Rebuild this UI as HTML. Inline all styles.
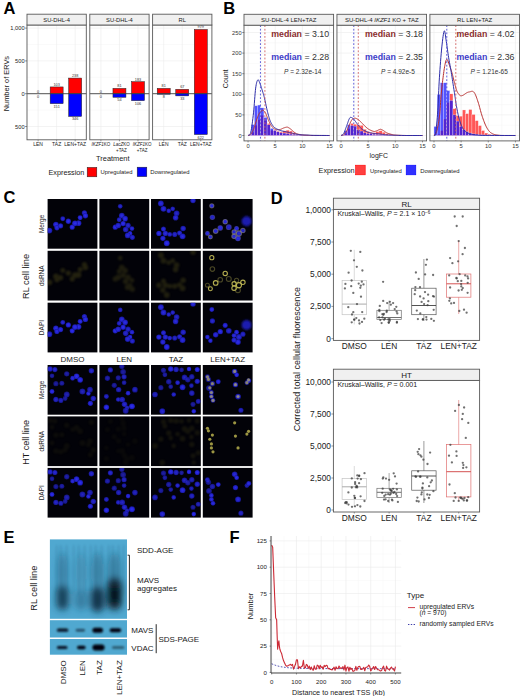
<!DOCTYPE html>
<html><head><meta charset="utf-8"><style>
html,body{margin:0;padding:0;background:#fff;}
svg{display:block;font-family:"Liberation Sans", sans-serif;}
</style></head><body>
<svg width="520" height="696" viewBox="0 0 520 696">
<text x="3.40" y="13.60" font-size="16.5" text-anchor="start" fill="#000" font-weight="bold">A</text>
<text x="9.00" y="83.60" font-size="7.4" text-anchor="middle" fill="#1a1a1a" transform="rotate(-90 9.0 83.6)">Number of ERVs</text>
<rect x="27.00" y="25.00" width="59.30" height="114.80" fill="#fff" stroke="none" stroke-width="0"/>
<line x1="27.00" y1="44.50" x2="86.30" y2="44.50" stroke="#f4f4f4" stroke-width="0.5"/>
<line x1="27.00" y1="77.30" x2="86.30" y2="77.30" stroke="#f4f4f4" stroke-width="0.5"/>
<line x1="27.00" y1="110.10" x2="86.30" y2="110.10" stroke="#f4f4f4" stroke-width="0.5"/>
<line x1="27.00" y1="28.10" x2="86.30" y2="28.10" stroke="#ebebeb" stroke-width="0.6"/>
<line x1="27.00" y1="60.90" x2="86.30" y2="60.90" stroke="#ebebeb" stroke-width="0.6"/>
<line x1="27.00" y1="93.70" x2="86.30" y2="93.70" stroke="#ebebeb" stroke-width="0.6"/>
<line x1="27.00" y1="126.50" x2="86.30" y2="126.50" stroke="#ebebeb" stroke-width="0.6"/>
<line x1="38.12" y1="25.00" x2="38.12" y2="139.80" stroke="#ebebeb" stroke-width="0.6"/>
<line x1="56.65" y1="25.00" x2="56.65" y2="139.80" stroke="#ebebeb" stroke-width="0.6"/>
<line x1="75.18" y1="25.00" x2="75.18" y2="139.80" stroke="#ebebeb" stroke-width="0.6"/>
<text x="38.12" y="92.50" font-size="3.8" text-anchor="middle" fill="#333">0</text>
<text x="38.12" y="97.70" font-size="3.8" text-anchor="middle" fill="#333">0</text>
<line x1="38.12" y1="139.80" x2="38.12" y2="141.30" stroke="#333333" stroke-width="0.5"/>
<rect x="50.16" y="86.94" width="12.97" height="6.76" fill="#ff0000" stroke="#222" stroke-width="0.5"/>
<rect x="50.16" y="93.70" width="12.97" height="9.91" fill="#0000ff" stroke="#222" stroke-width="0.5"/>
<text x="56.65" y="85.74" font-size="3.8" text-anchor="middle" fill="#333">103</text>
<text x="56.65" y="107.61" font-size="3.8" text-anchor="middle" fill="#333">151</text>
<line x1="56.65" y1="139.80" x2="56.65" y2="141.30" stroke="#333333" stroke-width="0.5"/>
<rect x="68.70" y="78.09" width="12.97" height="15.61" fill="#ff0000" stroke="#222" stroke-width="0.5"/>
<rect x="68.70" y="93.70" width="12.97" height="22.70" fill="#0000ff" stroke="#222" stroke-width="0.5"/>
<text x="75.18" y="76.89" font-size="3.8" text-anchor="middle" fill="#333">238</text>
<text x="75.18" y="120.40" font-size="3.8" text-anchor="middle" fill="#333">346</text>
<line x1="75.18" y1="139.80" x2="75.18" y2="141.30" stroke="#333333" stroke-width="0.5"/>
<line x1="27.00" y1="93.70" x2="86.30" y2="93.70" stroke="#444" stroke-width="0.9"/>
<rect x="27.00" y="25.00" width="59.30" height="114.80" fill="none" stroke="#595959" stroke-width="0.9"/>
<rect x="27.00" y="14.20" width="59.30" height="10.80" fill="#f0f0f0" stroke="#595959" stroke-width="0.9"/>
<text x="56.65" y="21.80" font-size="5.8" text-anchor="middle" fill="#1a1a1a">SU-DHL-4</text>
<rect x="89.80" y="25.00" width="59.30" height="114.80" fill="#fff" stroke="none" stroke-width="0"/>
<line x1="89.80" y1="44.50" x2="149.10" y2="44.50" stroke="#f4f4f4" stroke-width="0.5"/>
<line x1="89.80" y1="77.30" x2="149.10" y2="77.30" stroke="#f4f4f4" stroke-width="0.5"/>
<line x1="89.80" y1="110.10" x2="149.10" y2="110.10" stroke="#f4f4f4" stroke-width="0.5"/>
<line x1="89.80" y1="28.10" x2="149.10" y2="28.10" stroke="#ebebeb" stroke-width="0.6"/>
<line x1="89.80" y1="60.90" x2="149.10" y2="60.90" stroke="#ebebeb" stroke-width="0.6"/>
<line x1="89.80" y1="93.70" x2="149.10" y2="93.70" stroke="#ebebeb" stroke-width="0.6"/>
<line x1="89.80" y1="126.50" x2="149.10" y2="126.50" stroke="#ebebeb" stroke-width="0.6"/>
<line x1="100.92" y1="25.00" x2="100.92" y2="139.80" stroke="#ebebeb" stroke-width="0.6"/>
<line x1="119.45" y1="25.00" x2="119.45" y2="139.80" stroke="#ebebeb" stroke-width="0.6"/>
<line x1="137.98" y1="25.00" x2="137.98" y2="139.80" stroke="#ebebeb" stroke-width="0.6"/>
<text x="100.92" y="92.50" font-size="3.8" text-anchor="middle" fill="#333">0</text>
<text x="100.92" y="97.70" font-size="3.8" text-anchor="middle" fill="#333">0</text>
<line x1="100.92" y1="139.80" x2="100.92" y2="141.30" stroke="#333333" stroke-width="0.5"/>
<rect x="112.96" y="88.39" width="12.97" height="5.31" fill="#ff0000" stroke="#222" stroke-width="0.5"/>
<rect x="112.96" y="93.70" width="12.97" height="3.54" fill="#0000ff" stroke="#222" stroke-width="0.5"/>
<text x="119.45" y="87.19" font-size="3.8" text-anchor="middle" fill="#333">81</text>
<text x="119.45" y="101.24" font-size="3.8" text-anchor="middle" fill="#333">54</text>
<line x1="119.45" y1="139.80" x2="119.45" y2="141.30" stroke="#333333" stroke-width="0.5"/>
<rect x="131.50" y="81.70" width="12.97" height="12.00" fill="#ff0000" stroke="#222" stroke-width="0.5"/>
<rect x="131.50" y="93.70" width="12.97" height="6.95" fill="#0000ff" stroke="#222" stroke-width="0.5"/>
<text x="137.98" y="80.50" font-size="3.8" text-anchor="middle" fill="#333">183</text>
<text x="137.98" y="104.65" font-size="3.8" text-anchor="middle" fill="#333">106</text>
<line x1="137.98" y1="139.80" x2="137.98" y2="141.30" stroke="#333333" stroke-width="0.5"/>
<line x1="89.80" y1="93.70" x2="149.10" y2="93.70" stroke="#444" stroke-width="0.9"/>
<rect x="89.80" y="25.00" width="59.30" height="114.80" fill="none" stroke="#595959" stroke-width="0.9"/>
<rect x="89.80" y="14.20" width="59.30" height="10.80" fill="#f0f0f0" stroke="#595959" stroke-width="0.9"/>
<text x="119.45" y="21.80" font-size="5.8" text-anchor="middle" fill="#1a1a1a">SU-DHL-4</text>
<rect x="152.60" y="25.00" width="59.30" height="114.80" fill="#fff" stroke="none" stroke-width="0"/>
<line x1="152.60" y1="44.50" x2="211.90" y2="44.50" stroke="#f4f4f4" stroke-width="0.5"/>
<line x1="152.60" y1="77.30" x2="211.90" y2="77.30" stroke="#f4f4f4" stroke-width="0.5"/>
<line x1="152.60" y1="110.10" x2="211.90" y2="110.10" stroke="#f4f4f4" stroke-width="0.5"/>
<line x1="152.60" y1="28.10" x2="211.90" y2="28.10" stroke="#ebebeb" stroke-width="0.6"/>
<line x1="152.60" y1="60.90" x2="211.90" y2="60.90" stroke="#ebebeb" stroke-width="0.6"/>
<line x1="152.60" y1="93.70" x2="211.90" y2="93.70" stroke="#ebebeb" stroke-width="0.6"/>
<line x1="152.60" y1="126.50" x2="211.90" y2="126.50" stroke="#ebebeb" stroke-width="0.6"/>
<line x1="163.72" y1="25.00" x2="163.72" y2="139.80" stroke="#ebebeb" stroke-width="0.6"/>
<line x1="182.25" y1="25.00" x2="182.25" y2="139.80" stroke="#ebebeb" stroke-width="0.6"/>
<line x1="200.78" y1="25.00" x2="200.78" y2="139.80" stroke="#ebebeb" stroke-width="0.6"/>
<rect x="157.23" y="88.39" width="12.97" height="5.31" fill="#ff0000" stroke="#222" stroke-width="0.5"/>
<rect x="157.23" y="93.70" width="12.97" height="0.52" fill="#0000ff" stroke="#222" stroke-width="0.5"/>
<text x="163.72" y="87.19" font-size="3.8" text-anchor="middle" fill="#333">81</text>
<text x="163.72" y="98.22" font-size="3.8" text-anchor="middle" fill="#333">8</text>
<line x1="163.72" y1="139.80" x2="163.72" y2="141.30" stroke="#333333" stroke-width="0.5"/>
<rect x="175.76" y="89.30" width="12.97" height="4.40" fill="#ff0000" stroke="#222" stroke-width="0.5"/>
<rect x="175.76" y="93.70" width="12.97" height="2.16" fill="#0000ff" stroke="#222" stroke-width="0.5"/>
<text x="182.25" y="88.10" font-size="3.8" text-anchor="middle" fill="#333">67</text>
<text x="182.25" y="99.86" font-size="3.8" text-anchor="middle" fill="#333">33</text>
<line x1="182.25" y1="139.80" x2="182.25" y2="141.30" stroke="#333333" stroke-width="0.5"/>
<rect x="194.30" y="29.48" width="12.97" height="64.22" fill="#ff0000" stroke="#222" stroke-width="0.5"/>
<rect x="194.30" y="93.70" width="12.97" height="40.80" fill="#0000ff" stroke="#222" stroke-width="0.5"/>
<text x="200.78" y="28.28" font-size="3.8" text-anchor="middle" fill="#333">979</text>
<text x="200.78" y="138.50" font-size="3.8" text-anchor="middle" fill="#333">622</text>
<line x1="200.78" y1="139.80" x2="200.78" y2="141.30" stroke="#333333" stroke-width="0.5"/>
<line x1="152.60" y1="93.70" x2="211.90" y2="93.70" stroke="#444" stroke-width="0.9"/>
<rect x="152.60" y="25.00" width="59.30" height="114.80" fill="none" stroke="#595959" stroke-width="0.9"/>
<rect x="152.60" y="14.20" width="59.30" height="10.80" fill="#f0f0f0" stroke="#595959" stroke-width="0.9"/>
<text x="182.25" y="21.80" font-size="5.8" text-anchor="middle" fill="#1a1a1a">RL</text>
<line x1="25.00" y1="28.10" x2="27.00" y2="28.10" stroke="#333333" stroke-width="0.5"/>
<text x="24.60" y="30.10" font-size="5.7" text-anchor="end" fill="#222">1,000</text>
<line x1="25.00" y1="60.90" x2="27.00" y2="60.90" stroke="#333333" stroke-width="0.5"/>
<text x="24.60" y="62.90" font-size="5.7" text-anchor="end" fill="#222">500</text>
<line x1="25.00" y1="93.70" x2="27.00" y2="93.70" stroke="#333333" stroke-width="0.5"/>
<text x="24.60" y="95.70" font-size="5.7" text-anchor="end" fill="#222">0</text>
<line x1="25.00" y1="126.50" x2="27.00" y2="126.50" stroke="#333333" stroke-width="0.5"/>
<text x="24.60" y="128.50" font-size="5.7" text-anchor="end" fill="#222">500</text>
<text x="38.12" y="145.90" font-size="5.0" text-anchor="middle" fill="#222">LEN</text>
<text x="56.65" y="145.90" font-size="5.0" text-anchor="middle" fill="#222">TAZ</text>
<text x="75.18" y="145.90" font-size="5.0" text-anchor="middle" fill="#222">LEN+TAZ</text>
<text x="100.80" y="145.90" font-size="4.5" text-anchor="middle" fill="#222"><tspan font-style="italic">IKZF1</tspan>KO</text>
<text x="121.40" y="145.90" font-size="4.5" text-anchor="middle" fill="#222"><tspan font-style="italic">LacZ</tspan>KO</text>
<text x="121.40" y="151.50" font-size="4.5" text-anchor="middle" fill="#222">+TAZ</text>
<text x="142.10" y="145.90" font-size="4.5" text-anchor="middle" fill="#222"><tspan font-style="italic">IKZF1</tspan>KO</text>
<text x="142.10" y="151.50" font-size="4.5" text-anchor="middle" fill="#222">+TAZ</text>
<text x="163.72" y="145.90" font-size="5.0" text-anchor="middle" fill="#222">LEN</text>
<text x="182.25" y="145.90" font-size="5.0" text-anchor="middle" fill="#222">TAZ</text>
<text x="200.78" y="145.90" font-size="5.0" text-anchor="middle" fill="#222">LEN+TAZ</text>
<text x="112.80" y="160.60" font-size="7.4" text-anchor="middle" fill="#1a1a1a">Treatment</text>
<text x="48.50" y="174.70" font-size="7.25" text-anchor="start" fill="#1a1a1a">Expression</text>
<rect x="87.20" y="167.40" width="9.60" height="9.40" fill="#ff0000" stroke="#222" stroke-width="0.5"/>
<text x="100.60" y="174.20" font-size="5.85" text-anchor="start" fill="#1a1a1a">Upregulated</text>
<rect x="137.20" y="167.20" width="9.60" height="9.40" fill="#0000ff" stroke="#222" stroke-width="0.5"/>
<text x="150.20" y="174.20" font-size="5.85" text-anchor="start" fill="#1a1a1a">Downregulated</text>
<text x="223.20" y="13.60" font-size="16.5" text-anchor="start" fill="#000" font-weight="bold">B</text>
<text x="228.00" y="78.80" font-size="7.0" text-anchor="middle" fill="#1a1a1a" transform="rotate(-90 228.0 78.8)">Count</text>
<rect x="244.00" y="25.20" width="89.60" height="115.70" fill="#fff" stroke="none" stroke-width="0"/>
<line x1="261.64" y1="25.20" x2="261.64" y2="140.90" stroke="#f4f4f4" stroke-width="0.5"/>
<line x1="288.79" y1="25.20" x2="288.79" y2="140.90" stroke="#f4f4f4" stroke-width="0.5"/>
<line x1="315.94" y1="25.20" x2="315.94" y2="140.90" stroke="#f4f4f4" stroke-width="0.5"/>
<line x1="244.00" y1="125.20" x2="333.60" y2="125.20" stroke="#f4f4f4" stroke-width="0.5"/>
<line x1="244.00" y1="104.60" x2="333.60" y2="104.60" stroke="#f4f4f4" stroke-width="0.5"/>
<line x1="244.00" y1="84.00" x2="333.60" y2="84.00" stroke="#f4f4f4" stroke-width="0.5"/>
<line x1="244.00" y1="63.40" x2="333.60" y2="63.40" stroke="#f4f4f4" stroke-width="0.5"/>
<line x1="244.00" y1="42.80" x2="333.60" y2="42.80" stroke="#f4f4f4" stroke-width="0.5"/>
<line x1="248.07" y1="25.20" x2="248.07" y2="140.90" stroke="#ebebeb" stroke-width="0.6"/>
<line x1="275.22" y1="25.20" x2="275.22" y2="140.90" stroke="#ebebeb" stroke-width="0.6"/>
<line x1="302.37" y1="25.20" x2="302.37" y2="140.90" stroke="#ebebeb" stroke-width="0.6"/>
<line x1="329.52" y1="25.20" x2="329.52" y2="140.90" stroke="#ebebeb" stroke-width="0.6"/>
<line x1="244.00" y1="135.50" x2="333.60" y2="135.50" stroke="#ebebeb" stroke-width="0.6"/>
<line x1="244.00" y1="114.90" x2="333.60" y2="114.90" stroke="#ebebeb" stroke-width="0.6"/>
<line x1="244.00" y1="94.30" x2="333.60" y2="94.30" stroke="#ebebeb" stroke-width="0.6"/>
<line x1="244.00" y1="73.70" x2="333.60" y2="73.70" stroke="#ebebeb" stroke-width="0.6"/>
<line x1="244.00" y1="53.10" x2="333.60" y2="53.10" stroke="#ebebeb" stroke-width="0.6"/>
<line x1="244.00" y1="32.50" x2="333.60" y2="32.50" stroke="#ebebeb" stroke-width="0.6"/>
<rect x="248.07" y="135.17" width="3.17" height="0.33" fill="#ff2020" stroke="#ffffff" stroke-width="0.25" fill-opacity="0.75"/>
<rect x="248.07" y="135.06" width="3.17" height="0.44" fill="#1010ff" stroke="#ffffff" stroke-width="0.25" fill-opacity="0.72"/>
<rect x="251.24" y="132.22" width="3.17" height="3.28" fill="#ff2020" stroke="#ffffff" stroke-width="0.25" fill-opacity="0.75"/>
<rect x="251.24" y="124.61" width="3.17" height="10.89" fill="#1010ff" stroke="#ffffff" stroke-width="0.25" fill-opacity="0.72"/>
<rect x="254.40" y="125.26" width="3.17" height="10.24" fill="#ff2020" stroke="#ffffff" stroke-width="0.25" fill-opacity="0.75"/>
<rect x="254.40" y="105.74" width="3.17" height="29.76" fill="#1010ff" stroke="#ffffff" stroke-width="0.25" fill-opacity="0.72"/>
<rect x="257.57" y="119.72" width="3.17" height="15.78" fill="#ff2020" stroke="#ffffff" stroke-width="0.25" fill-opacity="0.75"/>
<rect x="257.57" y="105.05" width="3.17" height="30.45" fill="#1010ff" stroke="#ffffff" stroke-width="0.25" fill-opacity="0.72"/>
<rect x="260.73" y="115.22" width="3.17" height="20.28" fill="#ff2020" stroke="#ffffff" stroke-width="0.25" fill-opacity="0.75"/>
<rect x="260.73" y="107.85" width="3.17" height="27.65" fill="#1010ff" stroke="#ffffff" stroke-width="0.25" fill-opacity="0.72"/>
<rect x="263.90" y="120.51" width="3.17" height="14.99" fill="#ff2020" stroke="#ffffff" stroke-width="0.25" fill-opacity="0.75"/>
<rect x="263.90" y="117.39" width="3.17" height="18.11" fill="#1010ff" stroke="#ffffff" stroke-width="0.25" fill-opacity="0.72"/>
<rect x="267.06" y="123.52" width="3.17" height="11.98" fill="#ff2020" stroke="#ffffff" stroke-width="0.25" fill-opacity="0.75"/>
<rect x="267.06" y="124.82" width="3.17" height="10.68" fill="#1010ff" stroke="#ffffff" stroke-width="0.25" fill-opacity="0.72"/>
<rect x="270.23" y="130.14" width="3.17" height="5.36" fill="#ff2020" stroke="#ffffff" stroke-width="0.25" fill-opacity="0.75"/>
<rect x="270.23" y="128.41" width="3.17" height="7.09" fill="#1010ff" stroke="#ffffff" stroke-width="0.25" fill-opacity="0.72"/>
<rect x="273.40" y="130.12" width="3.17" height="5.38" fill="#ff2020" stroke="#ffffff" stroke-width="0.25" fill-opacity="0.75"/>
<rect x="273.40" y="130.51" width="3.17" height="4.99" fill="#1010ff" stroke="#ffffff" stroke-width="0.25" fill-opacity="0.72"/>
<rect x="276.56" y="131.15" width="3.17" height="4.35" fill="#ff2020" stroke="#ffffff" stroke-width="0.25" fill-opacity="0.75"/>
<rect x="276.56" y="131.84" width="3.17" height="3.66" fill="#1010ff" stroke="#ffffff" stroke-width="0.25" fill-opacity="0.72"/>
<rect x="279.73" y="131.77" width="3.17" height="3.73" fill="#ff2020" stroke="#ffffff" stroke-width="0.25" fill-opacity="0.75"/>
<rect x="279.73" y="132.85" width="3.17" height="2.65" fill="#1010ff" stroke="#ffffff" stroke-width="0.25" fill-opacity="0.72"/>
<rect x="282.89" y="130.87" width="3.17" height="4.63" fill="#ff2020" stroke="#ffffff" stroke-width="0.25" fill-opacity="0.75"/>
<rect x="282.89" y="133.07" width="3.17" height="2.43" fill="#1010ff" stroke="#ffffff" stroke-width="0.25" fill-opacity="0.72"/>
<rect x="286.06" y="130.16" width="3.17" height="5.34" fill="#ff2020" stroke="#ffffff" stroke-width="0.25" fill-opacity="0.75"/>
<rect x="286.06" y="133.61" width="3.17" height="1.89" fill="#1010ff" stroke="#ffffff" stroke-width="0.25" fill-opacity="0.72"/>
<rect x="289.22" y="131.04" width="3.17" height="4.46" fill="#ff2020" stroke="#ffffff" stroke-width="0.25" fill-opacity="0.75"/>
<rect x="289.22" y="134.07" width="3.17" height="1.43" fill="#1010ff" stroke="#ffffff" stroke-width="0.25" fill-opacity="0.72"/>
<rect x="292.39" y="132.64" width="3.17" height="2.86" fill="#ff2020" stroke="#ffffff" stroke-width="0.25" fill-opacity="0.75"/>
<rect x="292.39" y="134.39" width="3.17" height="1.11" fill="#1010ff" stroke="#ffffff" stroke-width="0.25" fill-opacity="0.72"/>
<rect x="295.56" y="134.29" width="3.17" height="1.21" fill="#ff2020" stroke="#ffffff" stroke-width="0.25" fill-opacity="0.75"/>
<rect x="295.56" y="134.77" width="3.17" height="0.73" fill="#1010ff" stroke="#ffffff" stroke-width="0.25" fill-opacity="0.72"/>
<rect x="298.72" y="134.80" width="3.17" height="0.70" fill="#ff2020" stroke="#ffffff" stroke-width="0.25" fill-opacity="0.75"/>
<rect x="298.72" y="135.02" width="3.17" height="0.48" fill="#1010ff" stroke="#ffffff" stroke-width="0.25" fill-opacity="0.72"/>
<rect x="301.89" y="135.18" width="3.17" height="0.32" fill="#ff2020" stroke="#ffffff" stroke-width="0.25" fill-opacity="0.75"/>
<rect x="301.89" y="135.17" width="3.17" height="0.33" fill="#1010ff" stroke="#ffffff" stroke-width="0.25" fill-opacity="0.72"/>
<rect x="305.05" y="135.27" width="3.17" height="0.23" fill="#ff2020" stroke="#ffffff" stroke-width="0.25" fill-opacity="0.75"/>
<rect x="305.05" y="135.20" width="3.17" height="0.30" fill="#1010ff" stroke="#ffffff" stroke-width="0.25" fill-opacity="0.72"/>
<path d="M248.07,135.50 L248.28,135.43 L248.56,135.36 L248.89,135.29 L249.26,135.19 L249.65,135.05 L250.04,134.86 L250.43,134.60 L250.78,134.26 L251.12,133.85 L251.46,133.37 L251.80,132.83 L252.14,132.23 L252.48,131.58 L252.82,130.87 L253.16,130.12 L253.50,129.32 L253.84,128.44 L254.18,127.46 L254.52,126.42 L254.86,125.33 L255.20,124.22 L255.54,123.13 L255.88,122.07 L256.21,121.08 L256.55,120.12 L256.89,119.16 L257.23,118.20 L257.57,117.27 L257.91,116.38 L258.25,115.54 L258.59,114.77 L258.93,114.08 L259.28,113.47 L259.63,112.92 L260.00,112.44 L260.36,112.02 L260.71,111.64 L261.04,111.31 L261.36,111.03 L261.64,110.78 L261.90,110.57 L262.12,110.41 L262.31,110.29 L262.49,110.21 L262.67,110.18 L262.85,110.20 L263.05,110.26 L263.27,110.37 L263.52,110.52 L263.78,110.72 L264.05,110.96 L264.33,111.24 L264.61,111.58 L264.89,111.95 L265.17,112.37 L265.45,112.84 L265.72,113.37 L265.99,113.99 L266.26,114.66 L266.53,115.36 L266.80,116.09 L267.07,116.82 L267.35,117.53 L267.62,118.20 L267.89,118.84 L268.15,119.48 L268.41,120.12 L268.67,120.75 L268.94,121.36 L269.21,121.97 L269.49,122.56 L269.79,123.14 L270.10,123.71 L270.43,124.28 L270.77,124.84 L271.11,125.38 L271.46,125.90 L271.81,126.39 L272.16,126.85 L272.50,127.26 L272.84,127.63 L273.18,127.96 L273.52,128.26 L273.86,128.52 L274.20,128.76 L274.54,128.97 L274.88,129.16 L275.22,129.32 L275.56,129.46 L275.90,129.56 L276.24,129.63 L276.58,129.68 L276.92,129.71 L277.26,129.73 L277.60,129.73 L277.94,129.73 L278.27,129.73 L278.61,129.71 L278.95,129.67 L279.29,129.63 L279.63,129.57 L279.97,129.50 L280.31,129.42 L280.65,129.32 L280.99,129.20 L281.33,129.06 L281.67,128.90 L282.01,128.73 L282.35,128.55 L282.69,128.38 L283.03,128.22 L283.37,128.08 L283.71,127.96 L284.07,127.83 L284.43,127.71 L284.79,127.59 L285.14,127.49 L285.48,127.40 L285.79,127.32 L286.08,127.26 L286.33,127.21 L286.54,127.16 L286.72,127.13 L286.89,127.11 L287.07,127.10 L287.25,127.12 L287.46,127.18 L287.71,127.26 L287.99,127.38 L288.29,127.52 L288.60,127.68 L288.93,127.88 L289.28,128.10 L289.64,128.34 L290.03,128.61 L290.42,128.91 L290.85,129.25 L291.32,129.65 L291.82,130.10 L292.32,130.56 L292.83,131.02 L293.33,131.46 L293.79,131.86 L294.23,132.20 L294.60,132.49 L294.92,132.75 L295.20,132.97 L295.48,133.17 L295.77,133.35 L296.10,133.52 L296.48,133.69 L296.94,133.85 L297.49,134.01 L298.11,134.17 L298.78,134.31 L299.49,134.44 L300.21,134.57 L300.95,134.68 L301.67,134.79 L302.37,134.88 L303.05,134.96 L303.73,135.03 L304.41,135.09 L305.08,135.14 L305.76,135.18 L306.44,135.22 L307.12,135.26 L307.80,135.29 L308.40,135.33 L308.90,135.36 L309.36,135.40 L309.84,135.42 L310.40,135.45 L311.11,135.47 L312.03,135.49 L313.23,135.50 L314.86,135.50 L316.92,135.50 L319.26,135.50 L321.71,135.50 L324.13,135.50 L326.34,135.50 L328.19,135.50 L329.52,135.50" fill="none" stroke="#b83030" stroke-width="1.0" stroke-linejoin="round"/>
<path d="M248.07,135.50 L248.28,135.36 L248.56,135.28 L248.89,135.21 L249.26,135.06 L249.65,134.76 L250.04,134.24 L250.43,133.41 L250.78,132.20 L251.13,130.59 L251.48,128.62 L251.83,126.35 L252.18,123.86 L252.52,121.20 L252.86,118.43 L253.19,115.63 L253.50,112.84 L253.80,109.89 L254.08,106.65 L254.35,103.24 L254.62,99.78 L254.88,96.42 L255.14,93.27 L255.40,90.46 L255.67,88.12 L255.94,86.22 L256.21,84.62 L256.49,83.30 L256.76,82.22 L257.03,81.37 L257.30,80.71 L257.57,80.23 L257.84,79.88 L258.12,79.75 L258.39,79.90 L258.66,80.27 L258.93,80.81 L259.20,81.46 L259.47,82.18 L259.74,82.90 L260.02,83.59 L260.29,84.27 L260.56,85.01 L260.83,85.81 L261.10,86.65 L261.37,87.52 L261.64,88.41 L261.92,89.30 L262.19,90.18 L262.46,91.03 L262.72,91.86 L262.98,92.68 L263.24,93.53 L263.51,94.42 L263.78,95.38 L264.06,96.43 L264.36,97.60 L264.67,98.92 L265.00,100.40 L265.34,101.98 L265.68,103.62 L266.03,105.28 L266.38,106.92 L266.73,108.50 L267.07,109.96 L267.41,111.34 L267.75,112.71 L268.09,114.04 L268.43,115.34 L268.77,116.58 L269.11,117.75 L269.45,118.84 L269.79,119.84 L270.13,120.75 L270.47,121.56 L270.81,122.29 L271.15,122.96 L271.49,123.57 L271.83,124.14 L272.17,124.68 L272.50,125.20 L272.83,125.68 L273.12,126.10 L273.40,126.48 L273.69,126.82 L274.00,127.14 L274.35,127.45 L274.75,127.76 L275.22,128.08 L275.77,128.42 L276.39,128.76 L277.06,129.10 L277.77,129.42 L278.49,129.74 L279.23,130.03 L279.95,130.31 L280.65,130.56 L281.33,130.77 L282.01,130.95 L282.69,131.11 L283.37,131.25 L284.04,131.38 L284.72,131.51 L285.40,131.65 L286.08,131.79 L286.76,131.95 L287.44,132.10 L288.12,132.26 L288.79,132.41 L289.47,132.56 L290.15,132.72 L290.83,132.87 L291.51,133.03 L292.19,133.19 L292.87,133.35 L293.55,133.52 L294.23,133.68 L294.90,133.85 L295.58,134.00 L296.26,134.14 L296.94,134.26 L297.62,134.37 L298.30,134.47 L298.98,134.56 L299.65,134.64 L300.33,134.71 L301.01,134.77 L301.69,134.83 L302.37,134.88 L303.05,134.93 L303.73,134.96 L304.41,134.99 L305.08,135.01 L305.76,135.03 L306.44,135.04 L307.12,135.06 L307.80,135.09 L308.40,135.12 L308.90,135.15 L309.36,135.18 L309.84,135.21 L310.40,135.25 L311.11,135.28 L312.03,135.31 L313.23,135.34 L314.86,135.36 L316.92,135.39 L319.26,135.41 L321.71,135.43 L324.13,135.45 L326.34,135.47 L328.19,135.49 L329.52,135.50" fill="none" stroke="#2c2ca8" stroke-width="1.0" stroke-linejoin="round"/>
<line x1="260.45" y1="25.20" x2="260.45" y2="140.90" stroke="#5050d8" stroke-width="0.9" stroke-dasharray="1.8,1.8"/>
<line x1="264.90" y1="25.20" x2="264.90" y2="140.90" stroke="#d06060" stroke-width="0.9" stroke-dasharray="1.8,1.8"/>
<text x="271.2" y="36.8" font-size="8.8" fill="#333"><tspan fill="#8b2e2e" font-weight="bold">median</tspan> = 3.10</text>
<text x="271.2" y="59.6" font-size="8.8" fill="#333"><tspan fill="#3c3cc8" font-weight="bold">median</tspan> = 2.28</text>
<text x="284.0" y="74.1" font-size="6.5" fill="#333"><tspan font-style="italic">P</tspan> = 2.32e-14</text>
<rect x="244.00" y="25.20" width="89.60" height="115.70" fill="none" stroke="#595959" stroke-width="0.9"/>
<rect x="244.00" y="14.30" width="89.60" height="10.90" fill="#f0f0f0" stroke="#595959" stroke-width="0.9"/>
<text x="288.80" y="22.10" font-size="6.0" text-anchor="middle" fill="#1a1a1a">SU-DHL-4 LEN+TAZ</text>
<line x1="248.07" y1="140.90" x2="248.07" y2="142.40" stroke="#333333" stroke-width="0.5"/>
<text x="248.07" y="148.20" font-size="5.8" text-anchor="middle" fill="#333">0</text>
<line x1="275.22" y1="140.90" x2="275.22" y2="142.40" stroke="#333333" stroke-width="0.5"/>
<text x="275.22" y="148.20" font-size="5.8" text-anchor="middle" fill="#333">5</text>
<line x1="302.37" y1="140.90" x2="302.37" y2="142.40" stroke="#333333" stroke-width="0.5"/>
<text x="302.37" y="148.20" font-size="5.8" text-anchor="middle" fill="#333">10</text>
<line x1="329.52" y1="140.90" x2="329.52" y2="142.40" stroke="#333333" stroke-width="0.5"/>
<text x="329.52" y="148.20" font-size="5.8" text-anchor="middle" fill="#333">15</text>
<rect x="336.95" y="25.20" width="89.60" height="115.70" fill="#fff" stroke="none" stroke-width="0"/>
<line x1="354.59" y1="25.20" x2="354.59" y2="140.90" stroke="#f4f4f4" stroke-width="0.5"/>
<line x1="381.75" y1="25.20" x2="381.75" y2="140.90" stroke="#f4f4f4" stroke-width="0.5"/>
<line x1="408.89" y1="25.20" x2="408.89" y2="140.90" stroke="#f4f4f4" stroke-width="0.5"/>
<line x1="336.95" y1="125.20" x2="426.55" y2="125.20" stroke="#f4f4f4" stroke-width="0.5"/>
<line x1="336.95" y1="104.60" x2="426.55" y2="104.60" stroke="#f4f4f4" stroke-width="0.5"/>
<line x1="336.95" y1="84.00" x2="426.55" y2="84.00" stroke="#f4f4f4" stroke-width="0.5"/>
<line x1="336.95" y1="63.40" x2="426.55" y2="63.40" stroke="#f4f4f4" stroke-width="0.5"/>
<line x1="336.95" y1="42.80" x2="426.55" y2="42.80" stroke="#f4f4f4" stroke-width="0.5"/>
<line x1="341.02" y1="25.20" x2="341.02" y2="140.90" stroke="#ebebeb" stroke-width="0.6"/>
<line x1="368.17" y1="25.20" x2="368.17" y2="140.90" stroke="#ebebeb" stroke-width="0.6"/>
<line x1="395.32" y1="25.20" x2="395.32" y2="140.90" stroke="#ebebeb" stroke-width="0.6"/>
<line x1="422.47" y1="25.20" x2="422.47" y2="140.90" stroke="#ebebeb" stroke-width="0.6"/>
<line x1="336.95" y1="135.50" x2="426.55" y2="135.50" stroke="#ebebeb" stroke-width="0.6"/>
<line x1="336.95" y1="114.90" x2="426.55" y2="114.90" stroke="#ebebeb" stroke-width="0.6"/>
<line x1="336.95" y1="94.30" x2="426.55" y2="94.30" stroke="#ebebeb" stroke-width="0.6"/>
<line x1="336.95" y1="73.70" x2="426.55" y2="73.70" stroke="#ebebeb" stroke-width="0.6"/>
<line x1="336.95" y1="53.10" x2="426.55" y2="53.10" stroke="#ebebeb" stroke-width="0.6"/>
<line x1="336.95" y1="32.50" x2="426.55" y2="32.50" stroke="#ebebeb" stroke-width="0.6"/>
<rect x="341.02" y="135.03" width="3.17" height="0.47" fill="#1010ff" stroke="#ffffff" stroke-width="0.25" fill-opacity="0.72"/>
<rect x="344.19" y="133.34" width="3.17" height="2.16" fill="#ff2020" stroke="#ffffff" stroke-width="0.25" fill-opacity="0.75"/>
<rect x="344.19" y="130.70" width="3.17" height="4.80" fill="#1010ff" stroke="#ffffff" stroke-width="0.25" fill-opacity="0.72"/>
<rect x="347.35" y="128.74" width="3.17" height="6.76" fill="#ff2020" stroke="#ffffff" stroke-width="0.25" fill-opacity="0.75"/>
<rect x="347.35" y="124.66" width="3.17" height="10.84" fill="#1010ff" stroke="#ffffff" stroke-width="0.25" fill-opacity="0.72"/>
<rect x="350.52" y="123.45" width="3.17" height="12.05" fill="#ff2020" stroke="#ffffff" stroke-width="0.25" fill-opacity="0.75"/>
<rect x="350.52" y="125.49" width="3.17" height="10.01" fill="#1010ff" stroke="#ffffff" stroke-width="0.25" fill-opacity="0.72"/>
<rect x="353.68" y="124.19" width="3.17" height="11.31" fill="#ff2020" stroke="#ffffff" stroke-width="0.25" fill-opacity="0.75"/>
<rect x="353.68" y="126.14" width="3.17" height="9.36" fill="#1010ff" stroke="#ffffff" stroke-width="0.25" fill-opacity="0.72"/>
<rect x="356.85" y="124.91" width="3.17" height="10.59" fill="#ff2020" stroke="#ffffff" stroke-width="0.25" fill-opacity="0.75"/>
<rect x="356.85" y="129.75" width="3.17" height="5.75" fill="#1010ff" stroke="#ffffff" stroke-width="0.25" fill-opacity="0.72"/>
<rect x="360.01" y="125.39" width="3.17" height="10.11" fill="#ff2020" stroke="#ffffff" stroke-width="0.25" fill-opacity="0.75"/>
<rect x="360.01" y="131.03" width="3.17" height="4.47" fill="#1010ff" stroke="#ffffff" stroke-width="0.25" fill-opacity="0.72"/>
<rect x="363.18" y="129.32" width="3.17" height="6.18" fill="#ff2020" stroke="#ffffff" stroke-width="0.25" fill-opacity="0.75"/>
<rect x="363.18" y="132.81" width="3.17" height="2.69" fill="#1010ff" stroke="#ffffff" stroke-width="0.25" fill-opacity="0.72"/>
<rect x="366.35" y="131.48" width="3.17" height="4.02" fill="#ff2020" stroke="#ffffff" stroke-width="0.25" fill-opacity="0.75"/>
<rect x="366.35" y="133.57" width="3.17" height="1.93" fill="#1010ff" stroke="#ffffff" stroke-width="0.25" fill-opacity="0.72"/>
<rect x="369.51" y="132.36" width="3.17" height="3.14" fill="#ff2020" stroke="#ffffff" stroke-width="0.25" fill-opacity="0.75"/>
<rect x="369.51" y="133.85" width="3.17" height="1.65" fill="#1010ff" stroke="#ffffff" stroke-width="0.25" fill-opacity="0.72"/>
<rect x="372.68" y="132.67" width="3.17" height="2.83" fill="#ff2020" stroke="#ffffff" stroke-width="0.25" fill-opacity="0.75"/>
<rect x="372.68" y="134.26" width="3.17" height="1.24" fill="#1010ff" stroke="#ffffff" stroke-width="0.25" fill-opacity="0.72"/>
<rect x="375.84" y="131.57" width="3.17" height="3.93" fill="#ff2020" stroke="#ffffff" stroke-width="0.25" fill-opacity="0.75"/>
<rect x="375.84" y="134.47" width="3.17" height="1.03" fill="#1010ff" stroke="#ffffff" stroke-width="0.25" fill-opacity="0.72"/>
<rect x="379.01" y="130.79" width="3.17" height="4.71" fill="#ff2020" stroke="#ffffff" stroke-width="0.25" fill-opacity="0.75"/>
<rect x="379.01" y="134.68" width="3.17" height="0.82" fill="#1010ff" stroke="#ffffff" stroke-width="0.25" fill-opacity="0.72"/>
<rect x="382.17" y="132.22" width="3.17" height="3.28" fill="#ff2020" stroke="#ffffff" stroke-width="0.25" fill-opacity="0.75"/>
<rect x="382.17" y="134.98" width="3.17" height="0.52" fill="#1010ff" stroke="#ffffff" stroke-width="0.25" fill-opacity="0.72"/>
<rect x="385.34" y="133.80" width="3.17" height="1.70" fill="#ff2020" stroke="#ffffff" stroke-width="0.25" fill-opacity="0.75"/>
<rect x="385.34" y="135.15" width="3.17" height="0.35" fill="#1010ff" stroke="#ffffff" stroke-width="0.25" fill-opacity="0.72"/>
<rect x="388.51" y="134.30" width="3.17" height="1.20" fill="#ff2020" stroke="#ffffff" stroke-width="0.25" fill-opacity="0.75"/>
<rect x="388.51" y="135.23" width="3.17" height="0.27" fill="#1010ff" stroke="#ffffff" stroke-width="0.25" fill-opacity="0.72"/>
<rect x="391.67" y="134.95" width="3.17" height="0.55" fill="#ff2020" stroke="#ffffff" stroke-width="0.25" fill-opacity="0.75"/>
<rect x="394.84" y="135.27" width="3.17" height="0.23" fill="#ff2020" stroke="#ffffff" stroke-width="0.25" fill-opacity="0.75"/>
<path d="M341.02,135.50 L341.23,135.45 L341.51,135.41 L341.84,135.36 L342.21,135.29 L342.60,135.20 L342.99,135.08 L343.38,134.90 L343.73,134.68 L344.07,134.40 L344.41,134.09 L344.75,133.75 L345.09,133.36 L345.43,132.94 L345.77,132.46 L346.11,131.95 L346.45,131.38 L346.79,130.74 L347.13,130.02 L347.47,129.24 L347.81,128.42 L348.15,127.58 L348.49,126.75 L348.83,125.95 L349.16,125.20 L349.50,124.47 L349.84,123.72 L350.18,122.97 L350.52,122.24 L350.86,121.54 L351.20,120.90 L351.54,120.33 L351.88,119.84 L352.22,119.44 L352.56,119.11 L352.90,118.85 L353.24,118.63 L353.58,118.47 L353.92,118.35 L354.26,118.26 L354.59,118.20 L354.93,118.17 L355.27,118.20 L355.61,118.27 L355.95,118.38 L356.29,118.51 L356.63,118.67 L356.97,118.84 L357.31,119.02 L357.65,119.21 L357.99,119.43 L358.33,119.67 L358.67,119.92 L359.01,120.19 L359.35,120.48 L359.69,120.77 L360.02,121.08 L360.35,121.39 L360.64,121.69 L360.92,122.01 L361.21,122.34 L361.52,122.70 L361.87,123.08 L362.27,123.50 L362.74,123.96 L363.29,124.50 L363.91,125.11 L364.58,125.78 L365.29,126.46 L366.01,127.14 L366.75,127.80 L367.47,128.39 L368.17,128.91 L368.87,129.36 L369.59,129.77 L370.33,130.14 L371.05,130.48 L371.76,130.77 L372.43,131.02 L373.05,131.23 L373.60,131.38 L374.07,131.47 L374.47,131.50 L374.82,131.47 L375.13,131.41 L375.42,131.31 L375.70,131.20 L375.99,131.08 L376.31,130.97 L376.66,130.85 L377.02,130.70 L377.38,130.53 L377.74,130.35 L378.09,130.17 L378.43,130.00 L378.74,129.85 L379.03,129.73 L379.28,129.63 L379.49,129.53 L379.67,129.44 L379.84,129.37 L380.02,129.32 L380.20,129.29 L380.41,129.29 L380.66,129.32 L380.94,129.39 L381.24,129.48 L381.55,129.61 L381.88,129.76 L382.23,129.93 L382.59,130.12 L382.98,130.33 L383.37,130.56 L383.79,130.81 L384.21,131.11 L384.65,131.43 L385.10,131.77 L385.58,132.11 L386.08,132.44 L386.61,132.75 L387.17,133.03 L387.79,133.28 L388.48,133.53 L389.21,133.76 L389.96,133.98 L390.70,134.18 L391.40,134.37 L392.05,134.53 L392.60,134.68 L393.06,134.79 L393.41,134.87 L393.70,134.93 L393.96,134.97 L394.22,135.00 L394.51,135.02 L394.87,135.05 L395.32,135.09 L395.87,135.13 L396.49,135.17 L397.16,135.21 L397.87,135.25 L398.59,135.29 L399.33,135.32 L400.05,135.35 L400.75,135.38 L401.35,135.40 L401.85,135.42 L402.31,135.44 L402.79,135.46 L403.35,135.47 L404.06,135.48 L404.98,135.49 L406.18,135.50 L407.81,135.50 L409.87,135.50 L412.21,135.50 L414.66,135.50 L417.08,135.50 L419.29,135.50 L421.14,135.50 L422.47,135.50" fill="none" stroke="#b83030" stroke-width="1.0" stroke-linejoin="round"/>
<path d="M341.02,135.50 L341.23,135.37 L341.51,135.25 L341.84,135.10 L342.21,134.91 L342.60,134.67 L342.99,134.35 L343.38,133.95 L343.73,133.44 L344.07,132.80 L344.41,132.05 L344.75,131.19 L345.09,130.27 L345.43,129.31 L345.77,128.33 L346.11,127.37 L346.45,126.44 L346.80,125.49 L347.15,124.48 L347.52,123.43 L347.88,122.39 L348.23,121.40 L348.56,120.48 L348.88,119.67 L349.16,119.02 L349.41,118.52 L349.62,118.13 L349.81,117.83 L349.98,117.63 L350.15,117.50 L350.34,117.42 L350.55,117.38 L350.79,117.37 L351.07,117.40 L351.37,117.47 L351.68,117.60 L352.02,117.78 L352.36,118.02 L352.73,118.30 L353.11,118.63 L353.51,119.02 L353.94,119.49 L354.41,120.06 L354.90,120.71 L355.41,121.39 L355.92,122.09 L356.41,122.77 L356.88,123.40 L357.31,123.96 L357.70,124.46 L358.07,124.92 L358.41,125.36 L358.74,125.77 L359.05,126.16 L359.37,126.53 L359.69,126.90 L360.02,127.26 L360.35,127.61 L360.64,127.94 L360.92,128.25 L361.21,128.55 L361.52,128.84 L361.87,129.13 L362.27,129.43 L362.74,129.73 L363.29,130.05 L363.91,130.38 L364.58,130.71 L365.29,131.05 L366.01,131.37 L366.75,131.67 L367.47,131.95 L368.17,132.20 L368.85,132.42 L369.53,132.62 L370.21,132.79 L370.88,132.95 L371.56,133.09 L372.24,133.22 L372.92,133.33 L373.60,133.44 L374.28,133.53 L374.96,133.59 L375.64,133.64 L376.31,133.67 L376.99,133.70 L377.67,133.74 L378.35,133.79 L379.03,133.85 L379.71,133.94 L380.39,134.04 L381.07,134.15 L381.75,134.26 L382.42,134.38 L383.10,134.49 L383.78,134.59 L384.46,134.68 L385.14,134.75 L385.82,134.81 L386.50,134.87 L387.17,134.92 L387.85,134.97 L388.53,135.01 L389.21,135.05 L389.89,135.09 L390.53,135.12 L391.12,135.15 L391.69,135.18 L392.27,135.20 L392.89,135.23 L393.58,135.25 L394.38,135.27 L395.32,135.29 L396.38,135.32 L397.53,135.35 L398.76,135.38 L400.07,135.41 L401.47,135.44 L402.96,135.46 L404.53,135.48 L406.18,135.50 L408.07,135.50 L410.25,135.50 L412.61,135.50 L415.00,135.50 L417.32,135.50 L419.42,135.50 L421.18,135.50 L422.47,135.50" fill="none" stroke="#2c2ca8" stroke-width="1.0" stroke-linejoin="round"/>
<line x1="353.78" y1="25.20" x2="353.78" y2="140.90" stroke="#5050d8" stroke-width="0.9" stroke-dasharray="1.8,1.8"/>
<line x1="358.29" y1="25.20" x2="358.29" y2="140.90" stroke="#d06060" stroke-width="0.9" stroke-dasharray="1.8,1.8"/>
<text x="365.0" y="36.8" font-size="8.8" fill="#333"><tspan fill="#8b2e2e" font-weight="bold">median</tspan> = 3.18</text>
<text x="365.0" y="59.6" font-size="8.8" fill="#333"><tspan fill="#3c3cc8" font-weight="bold">median</tspan> = 2.35</text>
<text x="381.0" y="74.1" font-size="6.5" fill="#333"><tspan font-style="italic">P</tspan> = 4.92e-5</text>
<rect x="336.95" y="25.20" width="89.60" height="115.70" fill="none" stroke="#595959" stroke-width="0.9"/>
<rect x="336.95" y="14.30" width="89.60" height="10.90" fill="#f0f0f0" stroke="#595959" stroke-width="0.9"/>
<text x="381.75" y="22.10" font-size="6.0" text-anchor="middle" fill="#1a1a1a">SU-DHL-4 <tspan font-style="italic">IKZF1</tspan> KO + TAZ</text>
<line x1="341.02" y1="140.90" x2="341.02" y2="142.40" stroke="#333333" stroke-width="0.5"/>
<text x="341.02" y="148.20" font-size="5.8" text-anchor="middle" fill="#333">0</text>
<line x1="368.17" y1="140.90" x2="368.17" y2="142.40" stroke="#333333" stroke-width="0.5"/>
<text x="368.17" y="148.20" font-size="5.8" text-anchor="middle" fill="#333">5</text>
<line x1="395.32" y1="140.90" x2="395.32" y2="142.40" stroke="#333333" stroke-width="0.5"/>
<text x="395.32" y="148.20" font-size="5.8" text-anchor="middle" fill="#333">10</text>
<line x1="422.47" y1="140.90" x2="422.47" y2="142.40" stroke="#333333" stroke-width="0.5"/>
<text x="422.47" y="148.20" font-size="5.8" text-anchor="middle" fill="#333">15</text>
<rect x="429.90" y="25.20" width="89.60" height="115.70" fill="#fff" stroke="none" stroke-width="0"/>
<line x1="447.54" y1="25.20" x2="447.54" y2="140.90" stroke="#f4f4f4" stroke-width="0.5"/>
<line x1="474.69" y1="25.20" x2="474.69" y2="140.90" stroke="#f4f4f4" stroke-width="0.5"/>
<line x1="501.84" y1="25.20" x2="501.84" y2="140.90" stroke="#f4f4f4" stroke-width="0.5"/>
<line x1="429.90" y1="125.20" x2="519.50" y2="125.20" stroke="#f4f4f4" stroke-width="0.5"/>
<line x1="429.90" y1="104.60" x2="519.50" y2="104.60" stroke="#f4f4f4" stroke-width="0.5"/>
<line x1="429.90" y1="84.00" x2="519.50" y2="84.00" stroke="#f4f4f4" stroke-width="0.5"/>
<line x1="429.90" y1="63.40" x2="519.50" y2="63.40" stroke="#f4f4f4" stroke-width="0.5"/>
<line x1="429.90" y1="42.80" x2="519.50" y2="42.80" stroke="#f4f4f4" stroke-width="0.5"/>
<line x1="433.97" y1="25.20" x2="433.97" y2="140.90" stroke="#ebebeb" stroke-width="0.6"/>
<line x1="461.12" y1="25.20" x2="461.12" y2="140.90" stroke="#ebebeb" stroke-width="0.6"/>
<line x1="488.27" y1="25.20" x2="488.27" y2="140.90" stroke="#ebebeb" stroke-width="0.6"/>
<line x1="515.42" y1="25.20" x2="515.42" y2="140.90" stroke="#ebebeb" stroke-width="0.6"/>
<line x1="429.90" y1="135.50" x2="519.50" y2="135.50" stroke="#ebebeb" stroke-width="0.6"/>
<line x1="429.90" y1="114.90" x2="519.50" y2="114.90" stroke="#ebebeb" stroke-width="0.6"/>
<line x1="429.90" y1="94.30" x2="519.50" y2="94.30" stroke="#ebebeb" stroke-width="0.6"/>
<line x1="429.90" y1="73.70" x2="519.50" y2="73.70" stroke="#ebebeb" stroke-width="0.6"/>
<line x1="429.90" y1="53.10" x2="519.50" y2="53.10" stroke="#ebebeb" stroke-width="0.6"/>
<line x1="429.90" y1="32.50" x2="519.50" y2="32.50" stroke="#ebebeb" stroke-width="0.6"/>
<rect x="433.97" y="126.44" width="3.17" height="9.06" fill="#1010ff" stroke="#ffffff" stroke-width="0.25" fill-opacity="0.72"/>
<rect x="437.14" y="134.26" width="3.17" height="1.24" fill="#ff2020" stroke="#ffffff" stroke-width="0.25" fill-opacity="0.75"/>
<rect x="437.14" y="94.30" width="3.17" height="41.20" fill="#1010ff" stroke="#ffffff" stroke-width="0.25" fill-opacity="0.72"/>
<rect x="440.30" y="130.56" width="3.17" height="4.94" fill="#ff2020" stroke="#ffffff" stroke-width="0.25" fill-opacity="0.75"/>
<rect x="440.30" y="82.76" width="3.17" height="52.74" fill="#1010ff" stroke="#ffffff" stroke-width="0.25" fill-opacity="0.72"/>
<rect x="443.47" y="119.02" width="3.17" height="16.48" fill="#ff2020" stroke="#ffffff" stroke-width="0.25" fill-opacity="0.75"/>
<rect x="443.47" y="82.76" width="3.17" height="52.74" fill="#1010ff" stroke="#ffffff" stroke-width="0.25" fill-opacity="0.72"/>
<rect x="446.63" y="102.54" width="3.17" height="32.96" fill="#ff2020" stroke="#ffffff" stroke-width="0.25" fill-opacity="0.75"/>
<rect x="446.63" y="90.59" width="3.17" height="44.91" fill="#1010ff" stroke="#ffffff" stroke-width="0.25" fill-opacity="0.72"/>
<rect x="449.80" y="93.89" width="3.17" height="41.61" fill="#ff2020" stroke="#ffffff" stroke-width="0.25" fill-opacity="0.75"/>
<rect x="449.80" y="100.48" width="3.17" height="35.02" fill="#1010ff" stroke="#ffffff" stroke-width="0.25" fill-opacity="0.72"/>
<rect x="452.96" y="108.72" width="3.17" height="26.78" fill="#ff2020" stroke="#ffffff" stroke-width="0.25" fill-opacity="0.75"/>
<rect x="452.96" y="114.90" width="3.17" height="20.60" fill="#1010ff" stroke="#ffffff" stroke-width="0.25" fill-opacity="0.72"/>
<rect x="456.13" y="115.72" width="3.17" height="19.78" fill="#ff2020" stroke="#ffffff" stroke-width="0.25" fill-opacity="0.75"/>
<rect x="456.13" y="121.08" width="3.17" height="14.42" fill="#1010ff" stroke="#ffffff" stroke-width="0.25" fill-opacity="0.72"/>
<rect x="459.30" y="116.14" width="3.17" height="19.36" fill="#ff2020" stroke="#ffffff" stroke-width="0.25" fill-opacity="0.75"/>
<rect x="459.30" y="126.44" width="3.17" height="9.06" fill="#1010ff" stroke="#ffffff" stroke-width="0.25" fill-opacity="0.72"/>
<rect x="462.46" y="109.96" width="3.17" height="25.54" fill="#ff2020" stroke="#ffffff" stroke-width="0.25" fill-opacity="0.75"/>
<rect x="462.46" y="129.73" width="3.17" height="5.77" fill="#1010ff" stroke="#ffffff" stroke-width="0.25" fill-opacity="0.72"/>
<rect x="465.63" y="113.66" width="3.17" height="21.84" fill="#ff2020" stroke="#ffffff" stroke-width="0.25" fill-opacity="0.75"/>
<rect x="465.63" y="131.79" width="3.17" height="3.71" fill="#1010ff" stroke="#ffffff" stroke-width="0.25" fill-opacity="0.72"/>
<rect x="468.79" y="109.54" width="3.17" height="25.96" fill="#ff2020" stroke="#ffffff" stroke-width="0.25" fill-opacity="0.75"/>
<rect x="468.79" y="133.03" width="3.17" height="2.47" fill="#1010ff" stroke="#ffffff" stroke-width="0.25" fill-opacity="0.72"/>
<rect x="471.96" y="114.49" width="3.17" height="21.01" fill="#ff2020" stroke="#ffffff" stroke-width="0.25" fill-opacity="0.75"/>
<rect x="471.96" y="133.85" width="3.17" height="1.65" fill="#1010ff" stroke="#ffffff" stroke-width="0.25" fill-opacity="0.72"/>
<rect x="475.12" y="120.67" width="3.17" height="14.83" fill="#ff2020" stroke="#ffffff" stroke-width="0.25" fill-opacity="0.75"/>
<rect x="475.12" y="134.26" width="3.17" height="1.24" fill="#1010ff" stroke="#ffffff" stroke-width="0.25" fill-opacity="0.72"/>
<rect x="478.29" y="125.61" width="3.17" height="9.89" fill="#ff2020" stroke="#ffffff" stroke-width="0.25" fill-opacity="0.75"/>
<rect x="478.29" y="134.68" width="3.17" height="0.82" fill="#1010ff" stroke="#ffffff" stroke-width="0.25" fill-opacity="0.72"/>
<rect x="481.46" y="130.56" width="3.17" height="4.94" fill="#ff2020" stroke="#ffffff" stroke-width="0.25" fill-opacity="0.75"/>
<rect x="481.46" y="134.88" width="3.17" height="0.62" fill="#1010ff" stroke="#ffffff" stroke-width="0.25" fill-opacity="0.72"/>
<rect x="484.62" y="133.03" width="3.17" height="2.47" fill="#ff2020" stroke="#ffffff" stroke-width="0.25" fill-opacity="0.75"/>
<rect x="484.62" y="135.09" width="3.17" height="0.41" fill="#1010ff" stroke="#ffffff" stroke-width="0.25" fill-opacity="0.72"/>
<rect x="487.79" y="134.26" width="3.17" height="1.24" fill="#ff2020" stroke="#ffffff" stroke-width="0.25" fill-opacity="0.75"/>
<rect x="487.79" y="135.25" width="3.17" height="0.25" fill="#1010ff" stroke="#ffffff" stroke-width="0.25" fill-opacity="0.72"/>
<rect x="490.95" y="134.88" width="3.17" height="0.62" fill="#ff2020" stroke="#ffffff" stroke-width="0.25" fill-opacity="0.75"/>
<rect x="494.12" y="135.09" width="3.17" height="0.41" fill="#ff2020" stroke="#ffffff" stroke-width="0.25" fill-opacity="0.75"/>
<rect x="497.28" y="135.25" width="3.17" height="0.25" fill="#ff2020" stroke="#ffffff" stroke-width="0.25" fill-opacity="0.75"/>
<path d="M433.97,135.50 L434.18,135.25 L434.46,135.00 L434.79,134.71 L435.16,134.34 L435.55,133.86 L435.94,133.23 L436.33,132.42 L436.68,131.38 L437.03,130.13 L437.39,128.69 L437.74,127.09 L438.10,125.33 L438.45,123.42 L438.79,121.39 L439.10,119.23 L439.40,116.96 L439.67,114.47 L439.92,111.70 L440.14,108.74 L440.36,105.68 L440.57,102.62 L440.77,99.64 L440.98,96.83 L441.19,94.30 L441.41,92.03 L441.61,89.93 L441.82,87.97 L442.02,86.11 L442.23,84.33 L442.44,82.58 L442.65,80.83 L442.88,79.06 L443.11,77.23 L443.34,75.37 L443.58,73.51 L443.83,71.69 L444.08,69.94 L444.33,68.30 L444.58,66.79 L444.83,65.46 L445.08,64.24 L445.32,63.08 L445.56,62.02 L445.80,61.08 L446.06,60.31 L446.32,59.72 L446.60,59.37 L446.89,59.28 L447.22,59.52 L447.57,60.10 L447.94,60.94 L448.32,61.96 L448.70,63.08 L449.07,64.22 L449.43,65.32 L449.77,66.28 L450.09,67.15 L450.39,67.99 L450.69,68.82 L450.98,69.66 L451.26,70.51 L451.54,71.39 L451.82,72.31 L452.11,73.29 L452.39,74.33 L452.68,75.43 L452.96,76.57 L453.25,77.74 L453.53,78.92 L453.81,80.10 L454.10,81.24 L454.39,82.35 L454.67,83.45 L454.95,84.56 L455.23,85.67 L455.52,86.76 L455.80,87.81 L456.10,88.81 L456.40,89.75 L456.72,90.59 L457.06,91.36 L457.40,92.08 L457.76,92.74 L458.13,93.35 L458.50,93.89 L458.87,94.37 L459.24,94.78 L459.60,95.12 L459.94,95.40 L460.27,95.59 L460.59,95.73 L460.91,95.79 L461.24,95.80 L461.60,95.76 L461.99,95.67 L462.42,95.54 L462.92,95.32 L463.48,95.00 L464.08,94.61 L464.70,94.17 L465.32,93.73 L465.93,93.31 L466.49,92.94 L466.98,92.65 L467.42,92.45 L467.81,92.29 L468.16,92.17 L468.49,92.09 L468.81,92.02 L469.13,91.96 L469.46,91.90 L469.81,91.83 L470.18,91.73 L470.56,91.62 L470.94,91.50 L471.33,91.39 L471.71,91.31 L472.08,91.28 L472.45,91.31 L472.79,91.42 L473.12,91.58 L473.42,91.76 L473.71,91.98 L474.00,92.27 L474.29,92.62 L474.58,93.07 L474.90,93.62 L475.24,94.30 L475.61,95.12 L476.00,96.07 L476.40,97.14 L476.82,98.29 L477.24,99.51 L477.66,100.78 L478.08,102.07 L478.50,103.36 L478.90,104.70 L479.30,106.10 L479.69,107.56 L480.09,109.05 L480.49,110.56 L480.90,112.04 L481.32,113.50 L481.75,114.90 L482.20,116.27 L482.67,117.66 L483.14,119.03 L483.62,120.38 L484.11,121.69 L484.59,122.94 L485.08,124.12 L485.55,125.20 L486.03,126.19 L486.49,127.11 L486.96,127.96 L487.42,128.75 L487.89,129.48 L488.37,130.16 L488.85,130.79 L489.36,131.38 L489.87,131.91 L490.38,132.38 L490.90,132.78 L491.43,133.14 L491.97,133.46 L492.52,133.75 L493.10,134.01 L493.70,134.26 L494.33,134.49 L494.98,134.67 L495.66,134.82 L496.35,134.95 L497.05,135.05 L497.75,135.14 L498.44,135.22 L499.13,135.29 L499.77,135.36 L500.36,135.41 L500.93,135.44 L501.51,135.46 L502.13,135.47 L502.82,135.48 L503.62,135.49 L504.56,135.50 L505.73,135.50 L507.15,135.50 L508.71,135.50 L510.33,135.50 L511.90,135.50 L513.34,135.50 L514.55,135.50 L515.42,135.50" fill="none" stroke="#b83030" stroke-width="1.0" stroke-linejoin="round"/>
<path d="M433.97,135.50 L434.09,135.48 L434.25,135.50 L434.44,135.50 L434.65,135.50 L434.88,135.50 L435.12,135.45 L435.36,134.70 L435.60,133.44 L435.85,131.66 L436.12,129.46 L436.40,126.90 L436.68,124.04 L436.97,120.94 L437.25,117.65 L437.52,114.25 L437.77,110.78 L438.00,107.14 L438.20,103.22 L438.39,99.08 L438.57,94.81 L438.75,90.48 L438.95,86.16 L439.16,81.91 L439.40,77.82 L439.67,73.76 L439.95,69.60 L440.26,65.43 L440.57,61.31 L440.89,57.33 L441.21,53.55 L441.53,50.06 L441.84,46.92 L442.15,44.02 L442.46,41.23 L442.78,38.63 L443.09,36.29 L443.40,34.26 L443.71,32.64 L444.00,31.48 L444.29,30.85 L444.56,30.88 L444.81,31.53 L445.06,32.69 L445.30,34.23 L445.54,36.01 L445.78,37.91 L446.03,39.81 L446.30,41.56 L446.57,43.30 L446.84,45.18 L447.12,47.16 L447.41,49.21 L447.70,51.28 L447.99,53.33 L448.28,55.33 L448.58,57.22 L448.88,59.02 L449.18,60.75 L449.49,62.45 L449.81,64.12 L450.12,65.78 L450.42,67.44 L450.73,69.11 L451.02,70.82 L451.31,72.56 L451.59,74.35 L451.87,76.15 L452.15,77.95 L452.42,79.73 L452.68,81.49 L452.94,83.19 L453.19,84.82 L453.44,86.41 L453.68,87.97 L453.92,89.49 L454.15,90.98 L454.38,92.41 L454.59,93.79 L454.79,95.11 L454.98,96.36 L455.15,97.49 L455.29,98.49 L455.41,99.40 L455.52,100.27 L455.64,101.14 L455.77,102.06 L455.93,103.06 L456.12,104.19 L456.35,105.47 L456.60,106.87 L456.88,108.35 L457.17,109.88 L457.47,111.42 L457.78,112.93 L458.09,114.37 L458.40,115.72 L458.72,117.00 L459.05,118.26 L459.39,119.49 L459.74,120.67 L460.08,121.80 L460.43,122.87 L460.78,123.87 L461.12,124.79 L461.45,125.61 L461.77,126.35 L462.09,127.02 L462.41,127.62 L462.74,128.18 L463.08,128.71 L463.44,129.22 L463.83,129.73 L464.25,130.24 L464.70,130.72 L465.16,131.17 L465.63,131.60 L466.12,132.00 L466.62,132.37 L467.13,132.72 L467.64,133.03 L468.15,133.30 L468.66,133.54 L469.18,133.74 L469.71,133.92 L470.25,134.07 L470.80,134.21 L471.38,134.34 L471.98,134.47 L472.61,134.59 L473.26,134.69 L473.94,134.78 L474.63,134.85 L475.33,134.92 L476.03,134.98 L476.72,135.03 L477.41,135.09 L477.90,135.14 L478.13,135.19 L478.25,135.23 L478.43,135.26 L478.82,135.29 L479.57,135.32 L480.86,135.35 L482.84,135.38 L485.84,135.40 L489.84,135.42 L494.50,135.44 L499.47,135.46 L504.40,135.47 L508.93,135.48 L512.72,135.49 L515.42,135.50" fill="none" stroke="#2c2ca8" stroke-width="1.0" stroke-linejoin="round"/>
<line x1="446.78" y1="25.20" x2="446.78" y2="140.90" stroke="#5050d8" stroke-width="0.9" stroke-dasharray="1.8,1.8"/>
<line x1="455.80" y1="25.20" x2="455.80" y2="140.90" stroke="#d06060" stroke-width="0.9" stroke-dasharray="1.8,1.8"/>
<text x="456.5" y="36.8" font-size="8.8" fill="#333"><tspan fill="#8b2e2e" font-weight="bold">median</tspan> = 4.02</text>
<text x="456.5" y="59.6" font-size="8.8" fill="#333"><tspan fill="#3c3cc8" font-weight="bold">median</tspan> = 2.36</text>
<text x="470.4" y="74.1" font-size="6.5" fill="#333"><tspan font-style="italic">P</tspan> = 1.21e-65</text>
<rect x="429.90" y="25.20" width="89.60" height="115.70" fill="none" stroke="#595959" stroke-width="0.9"/>
<rect x="429.90" y="14.30" width="89.60" height="10.90" fill="#f0f0f0" stroke="#595959" stroke-width="0.9"/>
<text x="474.70" y="22.10" font-size="6.0" text-anchor="middle" fill="#1a1a1a">RL LEN+TAZ</text>
<line x1="433.97" y1="140.90" x2="433.97" y2="142.40" stroke="#333333" stroke-width="0.5"/>
<text x="433.97" y="148.20" font-size="5.8" text-anchor="middle" fill="#333">0</text>
<line x1="461.12" y1="140.90" x2="461.12" y2="142.40" stroke="#333333" stroke-width="0.5"/>
<text x="461.12" y="148.20" font-size="5.8" text-anchor="middle" fill="#333">5</text>
<line x1="488.27" y1="140.90" x2="488.27" y2="142.40" stroke="#333333" stroke-width="0.5"/>
<text x="488.27" y="148.20" font-size="5.8" text-anchor="middle" fill="#333">10</text>
<line x1="515.42" y1="140.90" x2="515.42" y2="142.40" stroke="#333333" stroke-width="0.5"/>
<text x="515.42" y="148.20" font-size="5.8" text-anchor="middle" fill="#333">15</text>
<line x1="242.20" y1="135.50" x2="244.20" y2="135.50" stroke="#333333" stroke-width="0.5"/>
<text x="241.60" y="137.50" font-size="5.7" text-anchor="end" fill="#333">0</text>
<line x1="242.20" y1="114.90" x2="244.20" y2="114.90" stroke="#333333" stroke-width="0.5"/>
<text x="241.60" y="116.90" font-size="5.7" text-anchor="end" fill="#333">50</text>
<line x1="242.20" y1="94.30" x2="244.20" y2="94.30" stroke="#333333" stroke-width="0.5"/>
<text x="241.60" y="96.30" font-size="5.7" text-anchor="end" fill="#333">100</text>
<line x1="242.20" y1="73.70" x2="244.20" y2="73.70" stroke="#333333" stroke-width="0.5"/>
<text x="241.60" y="75.70" font-size="5.7" text-anchor="end" fill="#333">150</text>
<line x1="242.20" y1="53.10" x2="244.20" y2="53.10" stroke="#333333" stroke-width="0.5"/>
<text x="241.60" y="55.10" font-size="5.7" text-anchor="end" fill="#333">200</text>
<line x1="242.20" y1="32.50" x2="244.20" y2="32.50" stroke="#333333" stroke-width="0.5"/>
<text x="241.60" y="34.50" font-size="5.7" text-anchor="end" fill="#333">250</text>
<text x="378.80" y="158.00" font-size="6.9" text-anchor="middle" fill="#1a1a1a">logFC</text>
<text x="318.60" y="173.10" font-size="7.25" text-anchor="start" fill="#1a1a1a">Expression</text>
<rect x="355.60" y="165.20" width="9.60" height="9.60" fill="#ff4040" stroke="#ff0000" stroke-width="0.6"/>
<text x="370.00" y="172.60" font-size="5.85" text-anchor="start" fill="#1a1a1a">Upregulated</text>
<rect x="406.20" y="165.20" width="9.60" height="9.60" fill="#3030ff" stroke="#0000ff" stroke-width="0.6"/>
<text x="420.20" y="172.60" font-size="5.85" text-anchor="start" fill="#1a1a1a">Downregulated</text>
<text x="3.60" y="203.40" font-size="16.5" text-anchor="start" fill="#000" font-weight="bold">C</text>
<defs>
<filter id="bl1" x="-50%" y="-50%" width="200%" height="200%"><feGaussianBlur stdDeviation="0.65"/></filter>
<radialGradient id="cellg"><stop offset="0" stop-color="#3030f0"/><stop offset="0.6" stop-color="#2424d8"/><stop offset="1" stop-color="#161698"/></radialGradient>
<filter id="bl2" x="-50%" y="-50%" width="200%" height="200%"><feGaussianBlur stdDeviation="1.2"/></filter>
<filter id="blot" x="-50%" y="-50%" width="200%" height="200%"><feGaussianBlur stdDeviation="3.5"/></filter>
<filter id="blot2" x="-50%" y="-50%" width="200%" height="200%"><feGaussianBlur stdDeviation="1.2"/></filter>
</defs>
<rect x="47.60" y="199.00" width="49.80" height="49.70" fill="#020208" stroke="none" stroke-width="0"/>
<svg x="47.60" y="199.00" width="49.8" height="49.7" viewBox="0 0 50 50">
<g filter="url(#bl1)">
<circle cx="1.8" cy="31.7" r="2.89" fill="url(#cellg)" opacity="0.89"/>
<circle cx="8.3" cy="25.7" r="2.83" fill="url(#cellg)" opacity="0.96"/>
<circle cx="9.3" cy="29" r="2.59" fill="url(#cellg)" opacity="0.94"/>
<circle cx="15.2" cy="19.8" r="2.48" fill="url(#cellg)" opacity="0.89"/>
<circle cx="20.8" cy="22.4" r="2.66" fill="url(#cellg)" opacity="0.99"/>
<circle cx="24.7" cy="28.3" r="2.58" fill="url(#cellg)" opacity="1.00"/>
<circle cx="31.1" cy="24.3" r="2.85" fill="url(#cellg)" opacity="0.97"/>
<circle cx="32.7" cy="18.8" r="2.51" fill="url(#cellg)" opacity="0.99"/>
<circle cx="37" cy="13.9" r="2.63" fill="url(#cellg)" opacity="0.90"/>
<circle cx="38" cy="16.8" r="2.71" fill="url(#cellg)" opacity="0.96"/>
<circle cx="27.5" cy="24.5" r="2.94" fill="url(#cellg)" opacity="0.98"/>
<circle cx="13" cy="27" r="2.65" fill="url(#cellg)" opacity="0.95"/>
</g>
</svg>
<rect x="47.60" y="250.80" width="49.80" height="49.70" fill="#020208" stroke="none" stroke-width="0"/>
<svg x="47.60" y="250.80" width="49.8" height="49.7" viewBox="0 0 50 50">
<g filter="url(#bl2)" opacity="0.3">
<circle cx="1.8" cy="31.7" r="2.89" fill="#706a20"/>
<circle cx="8.3" cy="25.7" r="2.83" fill="#706a20"/>
<circle cx="9.3" cy="29" r="2.59" fill="#706a20"/>
<circle cx="15.2" cy="19.8" r="2.48" fill="#706a20"/>
<circle cx="20.8" cy="22.4" r="2.66" fill="#706a20"/>
<circle cx="24.7" cy="28.3" r="2.58" fill="#706a20"/>
<circle cx="31.1" cy="24.3" r="2.85" fill="#706a20"/>
<circle cx="32.7" cy="18.8" r="2.51" fill="#706a20"/>
<circle cx="37" cy="13.9" r="2.63" fill="#706a20"/>
<circle cx="38" cy="16.8" r="2.71" fill="#706a20"/>
<circle cx="27.5" cy="24.5" r="2.94" fill="#706a20"/>
<circle cx="13" cy="27" r="2.65" fill="#706a20"/>
</g>
</svg>
<rect x="47.60" y="302.70" width="49.80" height="49.70" fill="#020208" stroke="none" stroke-width="0"/>
<svg x="47.60" y="302.70" width="49.8" height="49.7" viewBox="0 0 50 50">
<g filter="url(#bl1)">
<circle cx="1.8" cy="31.7" r="2.89" fill="url(#cellg)" opacity="0.89"/>
<circle cx="8.3" cy="25.7" r="2.83" fill="url(#cellg)" opacity="0.96"/>
<circle cx="9.3" cy="29" r="2.59" fill="url(#cellg)" opacity="0.94"/>
<circle cx="15.2" cy="19.8" r="2.48" fill="url(#cellg)" opacity="0.89"/>
<circle cx="20.8" cy="22.4" r="2.66" fill="url(#cellg)" opacity="0.99"/>
<circle cx="24.7" cy="28.3" r="2.58" fill="url(#cellg)" opacity="1.00"/>
<circle cx="31.1" cy="24.3" r="2.85" fill="url(#cellg)" opacity="0.97"/>
<circle cx="32.7" cy="18.8" r="2.51" fill="url(#cellg)" opacity="0.99"/>
<circle cx="37" cy="13.9" r="2.63" fill="url(#cellg)" opacity="0.90"/>
<circle cx="38" cy="16.8" r="2.71" fill="url(#cellg)" opacity="0.96"/>
<circle cx="27.5" cy="24.5" r="2.94" fill="url(#cellg)" opacity="0.98"/>
<circle cx="13" cy="27" r="2.65" fill="url(#cellg)" opacity="0.95"/>
</g>
</svg>
<rect x="99.40" y="199.00" width="49.80" height="49.70" fill="#020208" stroke="none" stroke-width="0"/>
<svg x="99.40" y="199.00" width="49.8" height="49.7" viewBox="0 0 50 50">
<g filter="url(#bl1)">
<circle cx="20.9" cy="7.3" r="2.39" fill="url(#cellg)" opacity="0.85"/>
<circle cx="22.5" cy="16.8" r="2.89" fill="url(#cellg)" opacity="0.92"/>
<circle cx="25.8" cy="19.8" r="2.83" fill="url(#cellg)" opacity="0.96"/>
<circle cx="19.9" cy="20.8" r="2.48" fill="url(#cellg)" opacity="0.88"/>
<circle cx="23.8" cy="24.7" r="2.65" fill="url(#cellg)" opacity="0.99"/>
<circle cx="15.9" cy="28.3" r="2.61" fill="url(#cellg)" opacity="0.99"/>
<circle cx="28.8" cy="26.7" r="2.76" fill="url(#cellg)" opacity="0.85"/>
<circle cx="26.4" cy="30.7" r="2.85" fill="url(#cellg)" opacity="0.85"/>
<circle cx="32.7" cy="29.7" r="2.37" fill="url(#cellg)" opacity="0.93"/>
<circle cx="30.8" cy="34.6" r="2.32" fill="url(#cellg)" opacity="0.99"/>
<circle cx="28.4" cy="36.6" r="2.89" fill="url(#cellg)" opacity="0.91"/>
<circle cx="33.1" cy="38.6" r="2.60" fill="url(#cellg)" opacity="0.88"/>
<circle cx="18.9" cy="26.7" r="2.83" fill="url(#cellg)" opacity="0.91"/>
</g>
</svg>
<rect x="99.40" y="250.80" width="49.80" height="49.70" fill="#020208" stroke="none" stroke-width="0"/>
<svg x="99.40" y="250.80" width="49.8" height="49.7" viewBox="0 0 50 50">
<g filter="url(#bl2)" opacity="0.25">
<circle cx="20.9" cy="7.3" r="2.39" fill="#706a20"/>
<circle cx="22.5" cy="16.8" r="2.89" fill="#706a20"/>
<circle cx="25.8" cy="19.8" r="2.83" fill="#706a20"/>
<circle cx="19.9" cy="20.8" r="2.48" fill="#706a20"/>
<circle cx="23.8" cy="24.7" r="2.65" fill="#706a20"/>
<circle cx="15.9" cy="28.3" r="2.61" fill="#706a20"/>
<circle cx="28.8" cy="26.7" r="2.76" fill="#706a20"/>
<circle cx="26.4" cy="30.7" r="2.85" fill="#706a20"/>
<circle cx="32.7" cy="29.7" r="2.37" fill="#706a20"/>
<circle cx="30.8" cy="34.6" r="2.32" fill="#706a20"/>
<circle cx="28.4" cy="36.6" r="2.89" fill="#706a20"/>
<circle cx="33.1" cy="38.6" r="2.60" fill="#706a20"/>
<circle cx="18.9" cy="26.7" r="2.83" fill="#706a20"/>
</g>
</svg>
<rect x="99.40" y="302.70" width="49.80" height="49.70" fill="#020208" stroke="none" stroke-width="0"/>
<svg x="99.40" y="302.70" width="49.8" height="49.7" viewBox="0 0 50 50">
<g filter="url(#bl1)">
<circle cx="20.9" cy="7.3" r="2.39" fill="url(#cellg)" opacity="0.85"/>
<circle cx="22.5" cy="16.8" r="2.89" fill="url(#cellg)" opacity="0.92"/>
<circle cx="25.8" cy="19.8" r="2.83" fill="url(#cellg)" opacity="0.96"/>
<circle cx="19.9" cy="20.8" r="2.48" fill="url(#cellg)" opacity="0.88"/>
<circle cx="23.8" cy="24.7" r="2.65" fill="url(#cellg)" opacity="0.99"/>
<circle cx="15.9" cy="28.3" r="2.61" fill="url(#cellg)" opacity="0.99"/>
<circle cx="28.8" cy="26.7" r="2.76" fill="url(#cellg)" opacity="0.85"/>
<circle cx="26.4" cy="30.7" r="2.85" fill="url(#cellg)" opacity="0.85"/>
<circle cx="32.7" cy="29.7" r="2.37" fill="url(#cellg)" opacity="0.93"/>
<circle cx="30.8" cy="34.6" r="2.32" fill="url(#cellg)" opacity="0.99"/>
<circle cx="28.4" cy="36.6" r="2.89" fill="url(#cellg)" opacity="0.91"/>
<circle cx="33.1" cy="38.6" r="2.60" fill="url(#cellg)" opacity="0.88"/>
<circle cx="18.9" cy="26.7" r="2.83" fill="url(#cellg)" opacity="0.91"/>
</g>
</svg>
<rect x="151.00" y="199.00" width="49.80" height="49.70" fill="#020208" stroke="none" stroke-width="0"/>
<svg x="151.00" y="199.00" width="49.8" height="49.7" viewBox="0 0 50 50">
<g filter="url(#bl1)">
<circle cx="9.9" cy="4.5" r="2.97" fill="url(#cellg)" opacity="0.93"/>
<circle cx="12.5" cy="9.9" r="2.96" fill="url(#cellg)" opacity="0.92"/>
<circle cx="17.8" cy="11.9" r="2.34" fill="url(#cellg)" opacity="0.89"/>
<circle cx="21.8" cy="9.9" r="2.36" fill="url(#cellg)" opacity="0.86"/>
<circle cx="25.7" cy="14.4" r="2.88" fill="url(#cellg)" opacity="0.85"/>
<circle cx="24.7" cy="18.8" r="2.82" fill="url(#cellg)" opacity="0.92"/>
<circle cx="42.2" cy="1.4" r="2.77" fill="url(#cellg)" opacity="0.90"/>
<circle cx="12.5" cy="30.3" r="2.52" fill="url(#cellg)" opacity="0.91"/>
<circle cx="7.9" cy="34.6" r="2.72" fill="url(#cellg)" opacity="0.98"/>
<circle cx="14.4" cy="34.6" r="2.72" fill="url(#cellg)" opacity="0.93"/>
<circle cx="11.9" cy="39.6" r="2.71" fill="url(#cellg)" opacity="0.93"/>
<circle cx="18.8" cy="35.6" r="2.41" fill="url(#cellg)" opacity="0.89"/>
<circle cx="23.8" cy="35.6" r="2.60" fill="url(#cellg)" opacity="0.85"/>
<circle cx="28.7" cy="34.2" r="2.58" fill="url(#cellg)" opacity="0.90"/>
<circle cx="32.3" cy="29.7" r="2.81" fill="url(#cellg)" opacity="0.87"/>
<circle cx="31.7" cy="37.6" r="3.00" fill="url(#cellg)" opacity="0.93"/>
<circle cx="15.8" cy="44.5" r="2.96" fill="url(#cellg)" opacity="1.00"/>
</g>
</svg>
<rect x="151.00" y="250.80" width="49.80" height="49.70" fill="#020208" stroke="none" stroke-width="0"/>
<svg x="151.00" y="250.80" width="49.8" height="49.7" viewBox="0 0 50 50">
<g filter="url(#bl2)" opacity="0.28">
<circle cx="9.9" cy="4.5" r="2.97" fill="#706a20"/>
<circle cx="12.5" cy="9.9" r="2.96" fill="#706a20"/>
<circle cx="17.8" cy="11.9" r="2.34" fill="#706a20"/>
<circle cx="21.8" cy="9.9" r="2.36" fill="#706a20"/>
<circle cx="25.7" cy="14.4" r="2.88" fill="#706a20"/>
<circle cx="24.7" cy="18.8" r="2.82" fill="#706a20"/>
<circle cx="42.2" cy="1.4" r="2.77" fill="#706a20"/>
<circle cx="12.5" cy="30.3" r="2.52" fill="#706a20"/>
<circle cx="7.9" cy="34.6" r="2.72" fill="#706a20"/>
<circle cx="14.4" cy="34.6" r="2.72" fill="#706a20"/>
<circle cx="11.9" cy="39.6" r="2.71" fill="#706a20"/>
<circle cx="18.8" cy="35.6" r="2.41" fill="#706a20"/>
<circle cx="23.8" cy="35.6" r="2.60" fill="#706a20"/>
<circle cx="28.7" cy="34.2" r="2.58" fill="#706a20"/>
<circle cx="32.3" cy="29.7" r="2.81" fill="#706a20"/>
<circle cx="31.7" cy="37.6" r="3.00" fill="#706a20"/>
<circle cx="15.8" cy="44.5" r="2.96" fill="#706a20"/>
</g>
</svg>
<rect x="151.00" y="302.70" width="49.80" height="49.70" fill="#020208" stroke="none" stroke-width="0"/>
<svg x="151.00" y="302.70" width="49.8" height="49.7" viewBox="0 0 50 50">
<g filter="url(#bl1)">
<circle cx="9.9" cy="4.5" r="2.97" fill="url(#cellg)" opacity="0.93"/>
<circle cx="12.5" cy="9.9" r="2.96" fill="url(#cellg)" opacity="0.92"/>
<circle cx="17.8" cy="11.9" r="2.34" fill="url(#cellg)" opacity="0.89"/>
<circle cx="21.8" cy="9.9" r="2.36" fill="url(#cellg)" opacity="0.86"/>
<circle cx="25.7" cy="14.4" r="2.88" fill="url(#cellg)" opacity="0.85"/>
<circle cx="24.7" cy="18.8" r="2.82" fill="url(#cellg)" opacity="0.92"/>
<circle cx="42.2" cy="1.4" r="2.77" fill="url(#cellg)" opacity="0.90"/>
<circle cx="12.5" cy="30.3" r="2.52" fill="url(#cellg)" opacity="0.91"/>
<circle cx="7.9" cy="34.6" r="2.72" fill="url(#cellg)" opacity="0.98"/>
<circle cx="14.4" cy="34.6" r="2.72" fill="url(#cellg)" opacity="0.93"/>
<circle cx="11.9" cy="39.6" r="2.71" fill="url(#cellg)" opacity="0.93"/>
<circle cx="18.8" cy="35.6" r="2.41" fill="url(#cellg)" opacity="0.89"/>
<circle cx="23.8" cy="35.6" r="2.60" fill="url(#cellg)" opacity="0.85"/>
<circle cx="28.7" cy="34.2" r="2.58" fill="url(#cellg)" opacity="0.90"/>
<circle cx="32.3" cy="29.7" r="2.81" fill="url(#cellg)" opacity="0.87"/>
<circle cx="31.7" cy="37.6" r="3.00" fill="url(#cellg)" opacity="0.93"/>
<circle cx="15.8" cy="44.5" r="2.96" fill="url(#cellg)" opacity="1.00"/>
</g>
</svg>
<rect x="202.80" y="199.00" width="49.80" height="49.70" fill="#020208" stroke="none" stroke-width="0"/>
<svg x="202.80" y="199.00" width="49.8" height="49.7" viewBox="0 0 50 50">
<g filter="url(#bl1)">
<circle cx="9" cy="6.9" r="2.47" fill="url(#cellg)" opacity="0.95"/>
<circle cx="9.6" cy="18.4" r="2.68" fill="url(#cellg)" opacity="0.87"/>
<circle cx="22.5" cy="22.8" r="2.56" fill="url(#cellg)" opacity="0.95"/>
<circle cx="17.5" cy="29.1" r="2.72" fill="url(#cellg)" opacity="0.98"/>
<circle cx="12.9" cy="32.3" r="2.74" fill="url(#cellg)" opacity="0.93"/>
<circle cx="4.6" cy="34.6" r="2.35" fill="url(#cellg)" opacity="0.96"/>
<circle cx="7.6" cy="38.2" r="2.31" fill="url(#cellg)" opacity="0.95"/>
<circle cx="26.1" cy="28.3" r="2.89" fill="url(#cellg)" opacity="0.86"/>
<circle cx="33.9" cy="29.7" r="2.48" fill="url(#cellg)" opacity="0.96"/>
<circle cx="31.4" cy="33.1" r="2.46" fill="url(#cellg)" opacity="0.94"/>
<circle cx="36.3" cy="34.6" r="3.00" fill="url(#cellg)" opacity="0.90"/>
<circle cx="40.3" cy="31.7" r="2.63" fill="url(#cellg)" opacity="0.85"/>
<circle cx="35.3" cy="39.6" r="2.89" fill="url(#cellg)" opacity="0.98"/>
<circle cx="31.4" cy="37.6" r="2.63" fill="url(#cellg)" opacity="0.92"/>
<circle cx="44" cy="22.4" r="5" fill="#1a1ab0" filter="url(#bl2)"/>
</g>
<g filter="url(#bl1)">
<circle cx="9" cy="6.9" r="2.10" fill="none" stroke="#c8c058" stroke-width="1.1" opacity="0.38"/>
<circle cx="9.6" cy="18.4" r="2.28" fill="none" stroke="#c8c058" stroke-width="1.1" opacity="0.15"/>
<circle cx="22.5" cy="22.8" r="2.18" fill="none" stroke="#c8c058" stroke-width="1.1" opacity="0.38"/>
<circle cx="17.5" cy="29.1" r="2.31" fill="none" stroke="#c8c058" stroke-width="1.1" opacity="0.15"/>
<circle cx="12.9" cy="32.3" r="2.33" fill="none" stroke="#c8c058" stroke-width="1.1" opacity="0.38"/>
<circle cx="4.6" cy="34.6" r="1.99" fill="none" stroke="#c8c058" stroke-width="1.1" opacity="0.15"/>
<circle cx="7.6" cy="38.2" r="1.96" fill="none" stroke="#c8c058" stroke-width="1.1" opacity="0.38"/>
<circle cx="26.1" cy="28.3" r="2.45" fill="none" stroke="#c8c058" stroke-width="1.1" opacity="0.15"/>
<circle cx="33.9" cy="29.7" r="2.11" fill="none" stroke="#c8c058" stroke-width="1.1" opacity="0.15"/>
<circle cx="31.4" cy="33.1" r="2.09" fill="none" stroke="#c8c058" stroke-width="1.1" opacity="0.38"/>
<circle cx="36.3" cy="34.6" r="2.55" fill="none" stroke="#c8c058" stroke-width="1.1" opacity="0.38"/>
<circle cx="40.3" cy="31.7" r="2.23" fill="none" stroke="#c8c058" stroke-width="1.1" opacity="0.38"/>
<circle cx="35.3" cy="39.6" r="2.45" fill="none" stroke="#c8c058" stroke-width="1.1" opacity="0.15"/>
<circle cx="31.4" cy="37.6" r="2.24" fill="none" stroke="#c8c058" stroke-width="1.1" opacity="0.38"/>
</g>
</svg>
<rect x="202.80" y="250.80" width="49.80" height="49.70" fill="#020208" stroke="none" stroke-width="0"/>
<svg x="202.80" y="250.80" width="49.8" height="49.7" viewBox="0 0 50 50">
<g filter="url(#bl1)">
<circle cx="9" cy="6.9" r="2.10" fill="none" stroke="#c8c058" stroke-width="1.1" opacity="0.90"/>
<circle cx="9.6" cy="18.4" r="2.28" fill="none" stroke="#c8c058" stroke-width="1.1" opacity="0.36"/>
<circle cx="22.5" cy="22.8" r="2.18" fill="none" stroke="#c8c058" stroke-width="1.1" opacity="0.90"/>
<circle cx="17.5" cy="29.1" r="2.31" fill="none" stroke="#c8c058" stroke-width="1.1" opacity="0.36"/>
<circle cx="12.9" cy="32.3" r="2.33" fill="none" stroke="#c8c058" stroke-width="1.1" opacity="0.90"/>
<circle cx="4.6" cy="34.6" r="1.99" fill="none" stroke="#c8c058" stroke-width="1.1" opacity="0.36"/>
<circle cx="7.6" cy="38.2" r="1.96" fill="none" stroke="#c8c058" stroke-width="1.1" opacity="0.90"/>
<circle cx="26.1" cy="28.3" r="2.45" fill="none" stroke="#c8c058" stroke-width="1.1" opacity="0.36"/>
<circle cx="33.9" cy="29.7" r="2.11" fill="none" stroke="#c8c058" stroke-width="1.1" opacity="0.36"/>
<circle cx="31.4" cy="33.1" r="2.09" fill="none" stroke="#c8c058" stroke-width="1.1" opacity="0.90"/>
<circle cx="36.3" cy="34.6" r="2.55" fill="none" stroke="#c8c058" stroke-width="1.1" opacity="0.90"/>
<circle cx="40.3" cy="31.7" r="2.23" fill="none" stroke="#c8c058" stroke-width="1.1" opacity="0.90"/>
<circle cx="35.3" cy="39.6" r="2.45" fill="none" stroke="#c8c058" stroke-width="1.1" opacity="0.36"/>
<circle cx="31.4" cy="37.6" r="2.24" fill="none" stroke="#c8c058" stroke-width="1.1" opacity="0.90"/>
</g>
</svg>
<rect x="202.80" y="302.70" width="49.80" height="49.70" fill="#020208" stroke="none" stroke-width="0"/>
<svg x="202.80" y="302.70" width="49.8" height="49.7" viewBox="0 0 50 50">
<g filter="url(#bl1)">
<circle cx="9" cy="6.9" r="2.47" fill="url(#cellg)" opacity="0.95"/>
<circle cx="9.6" cy="18.4" r="2.68" fill="url(#cellg)" opacity="0.87"/>
<circle cx="22.5" cy="22.8" r="2.56" fill="url(#cellg)" opacity="0.95"/>
<circle cx="17.5" cy="29.1" r="2.72" fill="url(#cellg)" opacity="0.98"/>
<circle cx="12.9" cy="32.3" r="2.74" fill="url(#cellg)" opacity="0.93"/>
<circle cx="4.6" cy="34.6" r="2.35" fill="url(#cellg)" opacity="0.96"/>
<circle cx="7.6" cy="38.2" r="2.31" fill="url(#cellg)" opacity="0.95"/>
<circle cx="26.1" cy="28.3" r="2.89" fill="url(#cellg)" opacity="0.86"/>
<circle cx="33.9" cy="29.7" r="2.48" fill="url(#cellg)" opacity="0.96"/>
<circle cx="31.4" cy="33.1" r="2.46" fill="url(#cellg)" opacity="0.94"/>
<circle cx="36.3" cy="34.6" r="3.00" fill="url(#cellg)" opacity="0.90"/>
<circle cx="40.3" cy="31.7" r="2.63" fill="url(#cellg)" opacity="0.85"/>
<circle cx="35.3" cy="39.6" r="2.89" fill="url(#cellg)" opacity="0.98"/>
<circle cx="31.4" cy="37.6" r="2.63" fill="url(#cellg)" opacity="0.92"/>
<circle cx="44" cy="22.4" r="5" fill="#1a1ab0" filter="url(#bl2)"/>
</g>
</svg>
<rect x="47.60" y="365.00" width="49.80" height="49.70" fill="#020208" stroke="none" stroke-width="0"/>
<svg x="47.60" y="365.00" width="49.8" height="49.7" viewBox="0 0 50 50">
<g filter="url(#bl1)">
<circle cx="2.4" cy="4" r="2.70" fill="url(#cellg)" opacity="0.89"/>
<circle cx="7.3" cy="4.6" r="2.60" fill="url(#cellg)" opacity="0.88"/>
<circle cx="19.2" cy="8.9" r="2.70" fill="url(#cellg)" opacity="0.70"/>
<circle cx="25.1" cy="13.3" r="2.44" fill="url(#cellg)" opacity="0.92"/>
<circle cx="29.1" cy="11.3" r="2.87" fill="url(#cellg)" opacity="0.99"/>
<circle cx="32.7" cy="14.9" r="2.88" fill="url(#cellg)" opacity="0.99"/>
<circle cx="44" cy="5.9" r="2.76" fill="url(#cellg)" opacity="0.86"/>
<circle cx="4.4" cy="10.9" r="2.41" fill="url(#cellg)" opacity="0.67"/>
<circle cx="8.3" cy="18.8" r="2.66" fill="url(#cellg)" opacity="0.65"/>
<circle cx="14.3" cy="18.4" r="2.53" fill="url(#cellg)" opacity="0.70"/>
<circle cx="4.4" cy="26.7" r="2.47" fill="url(#cellg)" opacity="0.98"/>
<circle cx="19.2" cy="29.7" r="2.97" fill="url(#cellg)" opacity="0.76"/>
<circle cx="35" cy="26.7" r="3.00" fill="url(#cellg)" opacity="0.78"/>
<circle cx="41" cy="28.7" r="2.33" fill="url(#cellg)" opacity="0.96"/>
<circle cx="42.6" cy="24.8" r="2.90" fill="url(#cellg)" opacity="0.76"/>
<circle cx="8.3" cy="34.7" r="2.72" fill="url(#cellg)" opacity="0.84"/>
<circle cx="13.3" cy="35.6" r="2.57" fill="url(#cellg)" opacity="0.80"/>
<circle cx="17.6" cy="33.7" r="2.50" fill="url(#cellg)" opacity="0.67"/>
<circle cx="45.9" cy="33.7" r="2.77" fill="url(#cellg)" opacity="0.85"/>
<circle cx="43" cy="38.6" r="2.62" fill="url(#cellg)" opacity="0.95"/>
</g>
</svg>
<rect x="47.60" y="416.40" width="49.80" height="49.70" fill="#020208" stroke="none" stroke-width="0"/>
<svg x="47.60" y="416.40" width="49.8" height="49.7" viewBox="0 0 50 50">
<g filter="url(#bl2)" opacity="0.1">
<circle cx="2.4" cy="4" r="2.70" fill="#706a20"/>
<circle cx="7.3" cy="4.6" r="2.60" fill="#706a20"/>
<circle cx="19.2" cy="8.9" r="2.70" fill="#706a20"/>
<circle cx="25.1" cy="13.3" r="2.44" fill="#706a20"/>
<circle cx="29.1" cy="11.3" r="2.87" fill="#706a20"/>
<circle cx="32.7" cy="14.9" r="2.88" fill="#706a20"/>
<circle cx="44" cy="5.9" r="2.76" fill="#706a20"/>
<circle cx="4.4" cy="10.9" r="2.41" fill="#706a20"/>
<circle cx="8.3" cy="18.8" r="2.66" fill="#706a20"/>
<circle cx="14.3" cy="18.4" r="2.53" fill="#706a20"/>
<circle cx="4.4" cy="26.7" r="2.47" fill="#706a20"/>
<circle cx="19.2" cy="29.7" r="2.97" fill="#706a20"/>
<circle cx="35" cy="26.7" r="3.00" fill="#706a20"/>
<circle cx="41" cy="28.7" r="2.33" fill="#706a20"/>
<circle cx="42.6" cy="24.8" r="2.90" fill="#706a20"/>
<circle cx="8.3" cy="34.7" r="2.72" fill="#706a20"/>
<circle cx="13.3" cy="35.6" r="2.57" fill="#706a20"/>
<circle cx="17.6" cy="33.7" r="2.50" fill="#706a20"/>
<circle cx="45.9" cy="33.7" r="2.77" fill="#706a20"/>
<circle cx="43" cy="38.6" r="2.62" fill="#706a20"/>
</g>
</svg>
<rect x="47.60" y="467.90" width="49.80" height="49.70" fill="#020208" stroke="none" stroke-width="0"/>
<svg x="47.60" y="467.90" width="49.8" height="49.7" viewBox="0 0 50 50">
<g filter="url(#bl1)">
<circle cx="2.4" cy="4" r="2.70" fill="url(#cellg)" opacity="0.89"/>
<circle cx="7.3" cy="4.6" r="2.60" fill="url(#cellg)" opacity="0.88"/>
<circle cx="19.2" cy="8.9" r="2.70" fill="url(#cellg)" opacity="0.70"/>
<circle cx="25.1" cy="13.3" r="2.44" fill="url(#cellg)" opacity="0.92"/>
<circle cx="29.1" cy="11.3" r="2.87" fill="url(#cellg)" opacity="0.99"/>
<circle cx="32.7" cy="14.9" r="2.88" fill="url(#cellg)" opacity="0.99"/>
<circle cx="44" cy="5.9" r="2.76" fill="url(#cellg)" opacity="0.86"/>
<circle cx="4.4" cy="10.9" r="2.41" fill="url(#cellg)" opacity="0.67"/>
<circle cx="8.3" cy="18.8" r="2.66" fill="url(#cellg)" opacity="0.65"/>
<circle cx="14.3" cy="18.4" r="2.53" fill="url(#cellg)" opacity="0.70"/>
<circle cx="4.4" cy="26.7" r="2.47" fill="url(#cellg)" opacity="0.98"/>
<circle cx="19.2" cy="29.7" r="2.97" fill="url(#cellg)" opacity="0.76"/>
<circle cx="35" cy="26.7" r="3.00" fill="url(#cellg)" opacity="0.78"/>
<circle cx="41" cy="28.7" r="2.33" fill="url(#cellg)" opacity="0.96"/>
<circle cx="42.6" cy="24.8" r="2.90" fill="url(#cellg)" opacity="0.76"/>
<circle cx="8.3" cy="34.7" r="2.72" fill="url(#cellg)" opacity="0.84"/>
<circle cx="13.3" cy="35.6" r="2.57" fill="url(#cellg)" opacity="0.80"/>
<circle cx="17.6" cy="33.7" r="2.50" fill="url(#cellg)" opacity="0.67"/>
<circle cx="45.9" cy="33.7" r="2.77" fill="url(#cellg)" opacity="0.85"/>
<circle cx="43" cy="38.6" r="2.62" fill="url(#cellg)" opacity="0.95"/>
</g>
</svg>
<rect x="99.40" y="365.00" width="49.80" height="49.70" fill="#020208" stroke="none" stroke-width="0"/>
<svg x="99.40" y="365.00" width="49.8" height="49.7" viewBox="0 0 50 50">
<g filter="url(#bl1)">
<circle cx="11" cy="5" r="2.62" fill="url(#cellg)" opacity="0.87"/>
<circle cx="22.5" cy="1.4" r="2.69" fill="url(#cellg)" opacity="0.71"/>
<circle cx="23.8" cy="6.9" r="2.95" fill="url(#cellg)" opacity="0.66"/>
<circle cx="24.8" cy="11.9" r="2.63" fill="url(#cellg)" opacity="0.83"/>
<circle cx="18.9" cy="12.9" r="2.66" fill="url(#cellg)" opacity="0.67"/>
<circle cx="8" cy="13.3" r="2.71" fill="url(#cellg)" opacity="0.72"/>
<circle cx="24.8" cy="17.8" r="2.43" fill="url(#cellg)" opacity="0.73"/>
<circle cx="14.9" cy="20.4" r="2.66" fill="url(#cellg)" opacity="0.66"/>
<circle cx="19.3" cy="24.8" r="2.74" fill="url(#cellg)" opacity="0.81"/>
<circle cx="35.7" cy="24.8" r="2.86" fill="url(#cellg)" opacity="0.80"/>
<circle cx="28.8" cy="28.3" r="2.37" fill="url(#cellg)" opacity="0.94"/>
<circle cx="7" cy="31.7" r="2.51" fill="url(#cellg)" opacity="0.83"/>
<circle cx="18.9" cy="34.7" r="2.36" fill="url(#cellg)" opacity="0.87"/>
<circle cx="22.9" cy="34.7" r="2.87" fill="url(#cellg)" opacity="0.82"/>
<circle cx="25.2" cy="39.6" r="2.79" fill="url(#cellg)" opacity="0.88"/>
<circle cx="27.8" cy="43" r="2.33" fill="url(#cellg)" opacity="0.81"/>
<circle cx="26.4" cy="46.1" r="2.99" fill="url(#cellg)" opacity="0.75"/>
<circle cx="32.7" cy="41.6" r="2.98" fill="url(#cellg)" opacity="1.00"/>
<circle cx="7" cy="42.6" r="2.76" fill="url(#cellg)" opacity="1.00"/>
</g>
</svg>
<rect x="99.40" y="416.40" width="49.80" height="49.70" fill="#020208" stroke="none" stroke-width="0"/>
<svg x="99.40" y="416.40" width="49.8" height="49.7" viewBox="0 0 50 50">
<g filter="url(#bl2)" opacity="0.07">
<circle cx="11" cy="5" r="2.62" fill="#706a20"/>
<circle cx="22.5" cy="1.4" r="2.69" fill="#706a20"/>
<circle cx="23.8" cy="6.9" r="2.95" fill="#706a20"/>
<circle cx="24.8" cy="11.9" r="2.63" fill="#706a20"/>
<circle cx="18.9" cy="12.9" r="2.66" fill="#706a20"/>
<circle cx="8" cy="13.3" r="2.71" fill="#706a20"/>
<circle cx="24.8" cy="17.8" r="2.43" fill="#706a20"/>
<circle cx="14.9" cy="20.4" r="2.66" fill="#706a20"/>
<circle cx="19.3" cy="24.8" r="2.74" fill="#706a20"/>
<circle cx="35.7" cy="24.8" r="2.86" fill="#706a20"/>
<circle cx="28.8" cy="28.3" r="2.37" fill="#706a20"/>
<circle cx="7" cy="31.7" r="2.51" fill="#706a20"/>
<circle cx="18.9" cy="34.7" r="2.36" fill="#706a20"/>
<circle cx="22.9" cy="34.7" r="2.87" fill="#706a20"/>
<circle cx="25.2" cy="39.6" r="2.79" fill="#706a20"/>
<circle cx="27.8" cy="43" r="2.33" fill="#706a20"/>
<circle cx="26.4" cy="46.1" r="2.99" fill="#706a20"/>
<circle cx="32.7" cy="41.6" r="2.98" fill="#706a20"/>
<circle cx="7" cy="42.6" r="2.76" fill="#706a20"/>
</g>
</svg>
<rect x="99.40" y="467.90" width="49.80" height="49.70" fill="#020208" stroke="none" stroke-width="0"/>
<svg x="99.40" y="467.90" width="49.8" height="49.7" viewBox="0 0 50 50">
<g filter="url(#bl1)">
<circle cx="11" cy="5" r="2.62" fill="url(#cellg)" opacity="0.87"/>
<circle cx="22.5" cy="1.4" r="2.69" fill="url(#cellg)" opacity="0.71"/>
<circle cx="23.8" cy="6.9" r="2.95" fill="url(#cellg)" opacity="0.66"/>
<circle cx="24.8" cy="11.9" r="2.63" fill="url(#cellg)" opacity="0.83"/>
<circle cx="18.9" cy="12.9" r="2.66" fill="url(#cellg)" opacity="0.67"/>
<circle cx="8" cy="13.3" r="2.71" fill="url(#cellg)" opacity="0.72"/>
<circle cx="24.8" cy="17.8" r="2.43" fill="url(#cellg)" opacity="0.73"/>
<circle cx="14.9" cy="20.4" r="2.66" fill="url(#cellg)" opacity="0.66"/>
<circle cx="19.3" cy="24.8" r="2.74" fill="url(#cellg)" opacity="0.81"/>
<circle cx="35.7" cy="24.8" r="2.86" fill="url(#cellg)" opacity="0.80"/>
<circle cx="28.8" cy="28.3" r="2.37" fill="url(#cellg)" opacity="0.94"/>
<circle cx="7" cy="31.7" r="2.51" fill="url(#cellg)" opacity="0.83"/>
<circle cx="18.9" cy="34.7" r="2.36" fill="url(#cellg)" opacity="0.87"/>
<circle cx="22.9" cy="34.7" r="2.87" fill="url(#cellg)" opacity="0.82"/>
<circle cx="25.2" cy="39.6" r="2.79" fill="url(#cellg)" opacity="0.88"/>
<circle cx="27.8" cy="43" r="2.33" fill="url(#cellg)" opacity="0.81"/>
<circle cx="26.4" cy="46.1" r="2.99" fill="url(#cellg)" opacity="0.75"/>
<circle cx="32.7" cy="41.6" r="2.98" fill="url(#cellg)" opacity="1.00"/>
<circle cx="7" cy="42.6" r="2.76" fill="url(#cellg)" opacity="1.00"/>
</g>
</svg>
<rect x="151.00" y="365.00" width="49.80" height="49.70" fill="#020208" stroke="none" stroke-width="0"/>
<svg x="151.00" y="365.00" width="49.8" height="49.7" viewBox="0 0 50 50">
<g filter="url(#bl1)">
<circle cx="12.5" cy="5.3" r="2.63" fill="url(#cellg)" opacity="0.67"/>
<circle cx="19.8" cy="4" r="2.76" fill="url(#cellg)" opacity="0.97"/>
<circle cx="25.2" cy="4.6" r="2.77" fill="url(#cellg)" opacity="0.83"/>
<circle cx="30.7" cy="5" r="2.40" fill="url(#cellg)" opacity="0.68"/>
<circle cx="38.2" cy="4" r="2.31" fill="url(#cellg)" opacity="1.00"/>
<circle cx="46.5" cy="4.6" r="2.56" fill="url(#cellg)" opacity="0.98"/>
<circle cx="13.9" cy="9.9" r="2.49" fill="url(#cellg)" opacity="0.69"/>
<circle cx="33.7" cy="12.5" r="2.87" fill="url(#cellg)" opacity="0.80"/>
<circle cx="37" cy="14.9" r="2.78" fill="url(#cellg)" opacity="0.70"/>
<circle cx="41" cy="11.9" r="2.72" fill="url(#cellg)" opacity="0.76"/>
<circle cx="46.5" cy="16.4" r="2.69" fill="url(#cellg)" opacity="0.87"/>
<circle cx="17.8" cy="16.8" r="2.76" fill="url(#cellg)" opacity="0.71"/>
<circle cx="26.7" cy="17.8" r="2.40" fill="url(#cellg)" opacity="0.89"/>
<circle cx="9.9" cy="22.8" r="2.61" fill="url(#cellg)" opacity="0.67"/>
<circle cx="19.8" cy="21.8" r="2.41" fill="url(#cellg)" opacity="0.71"/>
<circle cx="31.7" cy="22.4" r="2.93" fill="url(#cellg)" opacity="0.94"/>
<circle cx="40.6" cy="20.8" r="2.34" fill="url(#cellg)" opacity="0.79"/>
<circle cx="4" cy="29.7" r="2.87" fill="url(#cellg)" opacity="0.80"/>
<circle cx="22.8" cy="29.7" r="2.35" fill="url(#cellg)" opacity="0.86"/>
<circle cx="41" cy="28.3" r="2.78" fill="url(#cellg)" opacity="0.82"/>
<circle cx="47.5" cy="36.6" r="2.54" fill="url(#cellg)" opacity="0.78"/>
<circle cx="42.2" cy="39.6" r="2.58" fill="url(#cellg)" opacity="0.66"/>
<circle cx="11.3" cy="46.5" r="2.89" fill="url(#cellg)" opacity="0.90"/>
<circle cx="43" cy="46.5" r="2.31" fill="url(#cellg)" opacity="0.99"/>
</g>
</svg>
<rect x="151.00" y="416.40" width="49.80" height="49.70" fill="#020208" stroke="none" stroke-width="0"/>
<svg x="151.00" y="416.40" width="49.8" height="49.7" viewBox="0 0 50 50">
<g filter="url(#bl2)" opacity="0.17">
<circle cx="12.5" cy="5.3" r="2.63" fill="#706a20"/>
<circle cx="19.8" cy="4" r="2.76" fill="#706a20"/>
<circle cx="25.2" cy="4.6" r="2.77" fill="#706a20"/>
<circle cx="30.7" cy="5" r="2.40" fill="#706a20"/>
<circle cx="38.2" cy="4" r="2.31" fill="#706a20"/>
<circle cx="46.5" cy="4.6" r="2.56" fill="#706a20"/>
<circle cx="13.9" cy="9.9" r="2.49" fill="#706a20"/>
<circle cx="33.7" cy="12.5" r="2.87" fill="#706a20"/>
<circle cx="37" cy="14.9" r="2.78" fill="#706a20"/>
<circle cx="41" cy="11.9" r="2.72" fill="#706a20"/>
<circle cx="46.5" cy="16.4" r="2.69" fill="#706a20"/>
<circle cx="17.8" cy="16.8" r="2.76" fill="#706a20"/>
<circle cx="26.7" cy="17.8" r="2.40" fill="#706a20"/>
<circle cx="9.9" cy="22.8" r="2.61" fill="#706a20"/>
<circle cx="19.8" cy="21.8" r="2.41" fill="#706a20"/>
<circle cx="31.7" cy="22.4" r="2.93" fill="#706a20"/>
<circle cx="40.6" cy="20.8" r="2.34" fill="#706a20"/>
<circle cx="4" cy="29.7" r="2.87" fill="#706a20"/>
<circle cx="22.8" cy="29.7" r="2.35" fill="#706a20"/>
<circle cx="41" cy="28.3" r="2.78" fill="#706a20"/>
<circle cx="47.5" cy="36.6" r="2.54" fill="#706a20"/>
<circle cx="42.2" cy="39.6" r="2.58" fill="#706a20"/>
<circle cx="11.3" cy="46.5" r="2.89" fill="#706a20"/>
<circle cx="43" cy="46.5" r="2.31" fill="#706a20"/>
</g>
</svg>
<rect x="151.00" y="467.90" width="49.80" height="49.70" fill="#020208" stroke="none" stroke-width="0"/>
<svg x="151.00" y="467.90" width="49.8" height="49.7" viewBox="0 0 50 50">
<g filter="url(#bl1)">
<circle cx="12.5" cy="5.3" r="2.63" fill="url(#cellg)" opacity="0.67"/>
<circle cx="19.8" cy="4" r="2.76" fill="url(#cellg)" opacity="0.97"/>
<circle cx="25.2" cy="4.6" r="2.77" fill="url(#cellg)" opacity="0.83"/>
<circle cx="30.7" cy="5" r="2.40" fill="url(#cellg)" opacity="0.68"/>
<circle cx="38.2" cy="4" r="2.31" fill="url(#cellg)" opacity="1.00"/>
<circle cx="46.5" cy="4.6" r="2.56" fill="url(#cellg)" opacity="0.98"/>
<circle cx="13.9" cy="9.9" r="2.49" fill="url(#cellg)" opacity="0.69"/>
<circle cx="33.7" cy="12.5" r="2.87" fill="url(#cellg)" opacity="0.80"/>
<circle cx="37" cy="14.9" r="2.78" fill="url(#cellg)" opacity="0.70"/>
<circle cx="41" cy="11.9" r="2.72" fill="url(#cellg)" opacity="0.76"/>
<circle cx="46.5" cy="16.4" r="2.69" fill="url(#cellg)" opacity="0.87"/>
<circle cx="17.8" cy="16.8" r="2.76" fill="url(#cellg)" opacity="0.71"/>
<circle cx="26.7" cy="17.8" r="2.40" fill="url(#cellg)" opacity="0.89"/>
<circle cx="9.9" cy="22.8" r="2.61" fill="url(#cellg)" opacity="0.67"/>
<circle cx="19.8" cy="21.8" r="2.41" fill="url(#cellg)" opacity="0.71"/>
<circle cx="31.7" cy="22.4" r="2.93" fill="url(#cellg)" opacity="0.94"/>
<circle cx="40.6" cy="20.8" r="2.34" fill="url(#cellg)" opacity="0.79"/>
<circle cx="4" cy="29.7" r="2.87" fill="url(#cellg)" opacity="0.80"/>
<circle cx="22.8" cy="29.7" r="2.35" fill="url(#cellg)" opacity="0.86"/>
<circle cx="41" cy="28.3" r="2.78" fill="url(#cellg)" opacity="0.82"/>
<circle cx="47.5" cy="36.6" r="2.54" fill="url(#cellg)" opacity="0.78"/>
<circle cx="42.2" cy="39.6" r="2.58" fill="url(#cellg)" opacity="0.66"/>
<circle cx="11.3" cy="46.5" r="2.89" fill="url(#cellg)" opacity="0.90"/>
<circle cx="43" cy="46.5" r="2.31" fill="url(#cellg)" opacity="0.99"/>
</g>
</svg>
<rect x="202.80" y="365.00" width="49.80" height="49.70" fill="#020208" stroke="none" stroke-width="0"/>
<svg x="202.80" y="365.00" width="49.8" height="49.7" viewBox="0 0 50 50">
<g filter="url(#bl1)">
<circle cx="4.6" cy="11.9" r="2.48" fill="url(#cellg)" opacity="0.86"/>
<circle cx="5.6" cy="14.5" r="2.78" fill="url(#cellg)" opacity="0.66"/>
<circle cx="9.6" cy="18.8" r="2.78" fill="url(#cellg)" opacity="0.75"/>
<circle cx="6.2" cy="23.2" r="2.89" fill="url(#cellg)" opacity="0.70"/>
<circle cx="8.6" cy="27.7" r="2.43" fill="url(#cellg)" opacity="0.95"/>
<circle cx="8.6" cy="31.7" r="2.46" fill="url(#cellg)" opacity="0.93"/>
<circle cx="10.2" cy="35.6" r="2.40" fill="url(#cellg)" opacity="0.93"/>
<circle cx="15.5" cy="16.8" r="2.46" fill="url(#cellg)" opacity="0.94"/>
<circle cx="32" cy="6.5" r="2.81" fill="url(#cellg)" opacity="0.91"/>
<circle cx="34" cy="9.9" r="2.39" fill="url(#cellg)" opacity="0.98"/>
<circle cx="32.8" cy="19.8" r="2.67" fill="url(#cellg)" opacity="0.93"/>
<circle cx="44.3" cy="17.8" r="2.45" fill="url(#cellg)" opacity="0.74"/>
<circle cx="46.2" cy="15.8" r="2.51" fill="url(#cellg)" opacity="0.95"/>
<circle cx="38.3" cy="45.5" r="2.60" fill="url(#cellg)" opacity="0.82"/>
<circle cx="35.4" cy="31.7" r="2.89" fill="url(#cellg)" opacity="0.91"/>
</g>
<g filter="url(#bl1)">
<circle cx="4.6" cy="11.9" r="1.6" fill="#c0b850" opacity="0.64"/>
<circle cx="5.6" cy="14.5" r="1.6" fill="#c0b850" opacity="0.64"/>
<circle cx="9.6" cy="18.8" r="1.6" fill="#c0b850" opacity="0.64"/>
<circle cx="8.6" cy="27.7" r="1.6" fill="#c0b850" opacity="0.64"/>
<circle cx="8.6" cy="31.7" r="1.6" fill="#c0b850" opacity="0.64"/>
<circle cx="10.2" cy="35.6" r="1.6" fill="#c0b850" opacity="0.64"/>
<circle cx="7" cy="23" r="1.6" fill="#c0b850" opacity="0.64"/>
<circle cx="32" cy="6.5" r="1.6" fill="#c0b850" opacity="0.64"/>
<circle cx="32.8" cy="19.8" r="1.6" fill="#c0b850" opacity="0.64"/>
<circle cx="44.3" cy="17.8" r="1.6" fill="#c0b850" opacity="0.64"/>
<circle cx="35.4" cy="31.7" r="1.6" fill="#c0b850" opacity="0.64"/>
<circle cx="46" cy="15" r="1.6" fill="#c0b850" opacity="0.64"/>
</g>
</svg>
<rect x="202.80" y="416.40" width="49.80" height="49.70" fill="#020208" stroke="none" stroke-width="0"/>
<svg x="202.80" y="416.40" width="49.8" height="49.7" viewBox="0 0 50 50">
<g filter="url(#bl1)">
<circle cx="4.6" cy="11.9" r="1.6" fill="#c0b850" opacity="0.81"/>
<circle cx="5.6" cy="14.5" r="1.6" fill="#c0b850" opacity="0.81"/>
<circle cx="9.6" cy="18.8" r="1.6" fill="#c0b850" opacity="0.81"/>
<circle cx="8.6" cy="27.7" r="1.6" fill="#c0b850" opacity="0.81"/>
<circle cx="8.6" cy="31.7" r="1.6" fill="#c0b850" opacity="0.81"/>
<circle cx="10.2" cy="35.6" r="1.6" fill="#c0b850" opacity="0.81"/>
<circle cx="7" cy="23" r="1.6" fill="#c0b850" opacity="0.81"/>
<circle cx="32" cy="6.5" r="1.6" fill="#c0b850" opacity="0.81"/>
<circle cx="32.8" cy="19.8" r="1.6" fill="#c0b850" opacity="0.81"/>
<circle cx="44.3" cy="17.8" r="1.6" fill="#c0b850" opacity="0.81"/>
<circle cx="35.4" cy="31.7" r="1.6" fill="#c0b850" opacity="0.81"/>
<circle cx="46" cy="15" r="1.6" fill="#c0b850" opacity="0.81"/>
</g>
</svg>
<rect x="202.80" y="467.90" width="49.80" height="49.70" fill="#020208" stroke="none" stroke-width="0"/>
<svg x="202.80" y="467.90" width="49.8" height="49.7" viewBox="0 0 50 50">
<g filter="url(#bl1)">
<circle cx="4.6" cy="11.9" r="2.48" fill="url(#cellg)" opacity="0.86"/>
<circle cx="5.6" cy="14.5" r="2.78" fill="url(#cellg)" opacity="0.66"/>
<circle cx="9.6" cy="18.8" r="2.78" fill="url(#cellg)" opacity="0.75"/>
<circle cx="6.2" cy="23.2" r="2.89" fill="url(#cellg)" opacity="0.70"/>
<circle cx="8.6" cy="27.7" r="2.43" fill="url(#cellg)" opacity="0.95"/>
<circle cx="8.6" cy="31.7" r="2.46" fill="url(#cellg)" opacity="0.93"/>
<circle cx="10.2" cy="35.6" r="2.40" fill="url(#cellg)" opacity="0.93"/>
<circle cx="15.5" cy="16.8" r="2.46" fill="url(#cellg)" opacity="0.94"/>
<circle cx="32" cy="6.5" r="2.81" fill="url(#cellg)" opacity="0.91"/>
<circle cx="34" cy="9.9" r="2.39" fill="url(#cellg)" opacity="0.98"/>
<circle cx="32.8" cy="19.8" r="2.67" fill="url(#cellg)" opacity="0.93"/>
<circle cx="44.3" cy="17.8" r="2.45" fill="url(#cellg)" opacity="0.74"/>
<circle cx="46.2" cy="15.8" r="2.51" fill="url(#cellg)" opacity="0.95"/>
<circle cx="38.3" cy="45.5" r="2.60" fill="url(#cellg)" opacity="0.82"/>
<circle cx="35.4" cy="31.7" r="2.89" fill="url(#cellg)" opacity="0.91"/>
</g>
</svg>
<text x="44.40" y="223.85" font-size="6.5" text-anchor="middle" fill="#1a1a1a" transform="rotate(-90 44.4 223.85)">Merge</text>
<text x="44.40" y="275.65" font-size="6.5" text-anchor="middle" fill="#1a1a1a" transform="rotate(-90 44.4 275.65000000000003)">dsRNA</text>
<text x="44.40" y="327.55" font-size="6.5" text-anchor="middle" fill="#1a1a1a" transform="rotate(-90 44.4 327.55)">DAPI</text>
<text x="44.40" y="389.85" font-size="6.5" text-anchor="middle" fill="#1a1a1a" transform="rotate(-90 44.4 389.85)">Merge</text>
<text x="44.40" y="441.25" font-size="6.5" text-anchor="middle" fill="#1a1a1a" transform="rotate(-90 44.4 441.25)">dsRNA</text>
<text x="44.40" y="492.75" font-size="6.5" text-anchor="middle" fill="#1a1a1a" transform="rotate(-90 44.4 492.75)">DAPI</text>
<text x="28.90" y="276.50" font-size="9.3" text-anchor="middle" fill="#1a1a1a" transform="rotate(-90 28.9 276.5)">RL cell line</text>
<text x="28.90" y="442.40" font-size="9.1" text-anchor="middle" fill="#1a1a1a" transform="rotate(-90 28.9 442.4)">HT cell line</text>
<text x="72.50" y="361.50" font-size="8.0" text-anchor="middle" fill="#1a1a1a">DMSO</text>
<text x="124.30" y="361.50" font-size="8.0" text-anchor="middle" fill="#1a1a1a">LEN</text>
<text x="175.90" y="361.50" font-size="8.0" text-anchor="middle" fill="#1a1a1a">TAZ</text>
<text x="227.70" y="361.50" font-size="8.0" text-anchor="middle" fill="#1a1a1a">LEN+TAZ</text>
<text x="270.80" y="204.20" font-size="16.5" text-anchor="start" fill="#000" font-weight="bold">D</text>
<text x="300.40" y="359.20" font-size="9.05" text-anchor="middle" fill="#1a1a1a" transform="rotate(-90 300.4 359.2)">Corrected total cellular fluorescence</text>
<rect x="333.40" y="209.40" width="146.20" height="131.00" fill="#fff" stroke="none" stroke-width="0"/>
<line x1="354.29" y1="249.80" x2="354.29" y2="280.40" stroke="#c4c4c4" stroke-width="0.6"/>
<line x1="354.29" y1="314.70" x2="354.29" y2="324.50" stroke="#c4c4c4" stroke-width="0.6"/>
<rect x="342.10" y="280.40" width="24.37" height="34.30" fill="none" stroke="#c4c4c4" stroke-width="0.7"/>
<line x1="342.10" y1="304.10" x2="366.47" y2="304.10" stroke="#a0a0a0" stroke-width="0.9"/>
<circle cx="357.0" cy="304.1" r="1.15" fill="#3a3a3a" fill-opacity="0.72"/>
<circle cx="360.3" cy="287.8" r="1.15" fill="#3a3a3a" fill-opacity="0.72"/>
<circle cx="354.4" cy="319.7" r="1.15" fill="#3a3a3a" fill-opacity="0.72"/>
<circle cx="351.6" cy="280.5" r="1.15" fill="#3a3a3a" fill-opacity="0.72"/>
<circle cx="360.3" cy="251.9" r="1.15" fill="#3a3a3a" fill-opacity="0.72"/>
<circle cx="344.9" cy="288.4" r="1.15" fill="#3a3a3a" fill-opacity="0.72"/>
<circle cx="362.0" cy="321.9" r="1.15" fill="#3a3a3a" fill-opacity="0.72"/>
<circle cx="350.8" cy="250.8" r="1.15" fill="#3a3a3a" fill-opacity="0.72"/>
<circle cx="363.5" cy="284.4" r="1.15" fill="#3a3a3a" fill-opacity="0.72"/>
<circle cx="360.8" cy="285.7" r="1.15" fill="#3a3a3a" fill-opacity="0.72"/>
<circle cx="353.3" cy="312.2" r="1.15" fill="#3a3a3a" fill-opacity="0.72"/>
<circle cx="354.0" cy="260.3" r="1.15" fill="#3a3a3a" fill-opacity="0.72"/>
<circle cx="361.8" cy="281.7" r="1.15" fill="#3a3a3a" fill-opacity="0.72"/>
<circle cx="348.3" cy="307.2" r="1.15" fill="#3a3a3a" fill-opacity="0.72"/>
<circle cx="359.5" cy="323.5" r="1.15" fill="#3a3a3a" fill-opacity="0.72"/>
<circle cx="359.0" cy="320.4" r="1.15" fill="#3a3a3a" fill-opacity="0.72"/>
<circle cx="361.0" cy="296.7" r="1.15" fill="#3a3a3a" fill-opacity="0.72"/>
<circle cx="362.2" cy="312.1" r="1.15" fill="#3a3a3a" fill-opacity="0.72"/>
<circle cx="353.3" cy="292.9" r="1.15" fill="#3a3a3a" fill-opacity="0.72"/>
<circle cx="352.0" cy="314.5" r="1.15" fill="#3a3a3a" fill-opacity="0.72"/>
<circle cx="358.7" cy="283.6" r="1.15" fill="#3a3a3a" fill-opacity="0.72"/>
<circle cx="354.1" cy="319.6" r="1.15" fill="#3a3a3a" fill-opacity="0.72"/>
<circle cx="348.6" cy="272.7" r="1.15" fill="#3a3a3a" fill-opacity="0.72"/>
<circle cx="356.8" cy="266.8" r="1.15" fill="#3a3a3a" fill-opacity="0.72"/>
<circle cx="351.2" cy="286.2" r="1.15" fill="#3a3a3a" fill-opacity="0.72"/>
<circle cx="356.3" cy="318.1" r="1.15" fill="#3a3a3a" fill-opacity="0.72"/>
<circle cx="345.4" cy="283.9" r="1.15" fill="#3a3a3a" fill-opacity="0.72"/>
<circle cx="351.7" cy="322.3" r="1.15" fill="#3a3a3a" fill-opacity="0.72"/>
<circle cx="362.4" cy="270.5" r="1.15" fill="#3a3a3a" fill-opacity="0.72"/>
<circle cx="364.3" cy="318.7" r="1.15" fill="#3a3a3a" fill-opacity="0.72"/>
<line x1="354.29" y1="340.40" x2="354.29" y2="341.90" stroke="#333333" stroke-width="0.5"/>
<text x="354.29" y="349.40" font-size="8.4" text-anchor="middle" fill="#1a1a1a">DMSO</text>
<line x1="389.10" y1="300.60" x2="389.10" y2="310.30" stroke="#707070" stroke-width="0.6"/>
<line x1="389.10" y1="319.50" x2="389.10" y2="323.50" stroke="#707070" stroke-width="0.6"/>
<rect x="376.91" y="310.30" width="24.37" height="9.20" fill="none" stroke="#707070" stroke-width="0.7"/>
<line x1="376.91" y1="317.50" x2="401.28" y2="317.50" stroke="#606060" stroke-width="0.9"/>
<circle cx="396.9" cy="321.9" r="1.15" fill="#3a3a3a" fill-opacity="0.72"/>
<circle cx="383.9" cy="313.8" r="1.15" fill="#3a3a3a" fill-opacity="0.72"/>
<circle cx="380.3" cy="320.1" r="1.15" fill="#3a3a3a" fill-opacity="0.72"/>
<circle cx="388.8" cy="322.6" r="1.15" fill="#3a3a3a" fill-opacity="0.72"/>
<circle cx="384.1" cy="319.7" r="1.15" fill="#3a3a3a" fill-opacity="0.72"/>
<circle cx="382.4" cy="314.2" r="1.15" fill="#3a3a3a" fill-opacity="0.72"/>
<circle cx="397.3" cy="313.4" r="1.15" fill="#3a3a3a" fill-opacity="0.72"/>
<circle cx="388.7" cy="322.5" r="1.15" fill="#3a3a3a" fill-opacity="0.72"/>
<circle cx="389.6" cy="319.1" r="1.15" fill="#3a3a3a" fill-opacity="0.72"/>
<circle cx="383.2" cy="300.9" r="1.15" fill="#3a3a3a" fill-opacity="0.72"/>
<circle cx="396.9" cy="322.7" r="1.15" fill="#3a3a3a" fill-opacity="0.72"/>
<circle cx="390.8" cy="304.7" r="1.15" fill="#3a3a3a" fill-opacity="0.72"/>
<circle cx="389.8" cy="320.7" r="1.15" fill="#3a3a3a" fill-opacity="0.72"/>
<circle cx="379.1" cy="317.4" r="1.15" fill="#3a3a3a" fill-opacity="0.72"/>
<circle cx="379.3" cy="309.9" r="1.15" fill="#3a3a3a" fill-opacity="0.72"/>
<circle cx="396.3" cy="306.8" r="1.15" fill="#3a3a3a" fill-opacity="0.72"/>
<circle cx="387.2" cy="303.1" r="1.15" fill="#3a3a3a" fill-opacity="0.72"/>
<circle cx="381.6" cy="323.1" r="1.15" fill="#3a3a3a" fill-opacity="0.72"/>
<circle cx="379.4" cy="311.2" r="1.15" fill="#3a3a3a" fill-opacity="0.72"/>
<circle cx="396.6" cy="311.6" r="1.15" fill="#3a3a3a" fill-opacity="0.72"/>
<circle cx="389.9" cy="301.8" r="1.15" fill="#3a3a3a" fill-opacity="0.72"/>
<circle cx="383.4" cy="314.8" r="1.15" fill="#3a3a3a" fill-opacity="0.72"/>
<circle cx="386.6" cy="312.0" r="1.15" fill="#3a3a3a" fill-opacity="0.72"/>
<circle cx="379.8" cy="305.9" r="1.15" fill="#3a3a3a" fill-opacity="0.72"/>
<circle cx="394.7" cy="309.1" r="1.15" fill="#3a3a3a" fill-opacity="0.72"/>
<circle cx="388.4" cy="319.5" r="1.15" fill="#3a3a3a" fill-opacity="0.72"/>
<circle cx="382.4" cy="317.3" r="1.15" fill="#3a3a3a" fill-opacity="0.72"/>
<circle cx="393.1" cy="303.1" r="1.15" fill="#3a3a3a" fill-opacity="0.72"/>
<circle cx="386.8" cy="310.7" r="1.15" fill="#3a3a3a" fill-opacity="0.72"/>
<circle cx="384.9" cy="318.6" r="1.15" fill="#3a3a3a" fill-opacity="0.72"/>
<circle cx="383.1" cy="281.8" r="1.15" fill="#3a3a3a" fill-opacity="0.72"/>
<line x1="389.10" y1="340.40" x2="389.10" y2="341.90" stroke="#333333" stroke-width="0.5"/>
<text x="389.10" y="349.40" font-size="8.4" text-anchor="middle" fill="#1a1a1a">LEN</text>
<line x1="423.90" y1="259.00" x2="423.90" y2="288.20" stroke="#555555" stroke-width="0.6"/>
<line x1="423.90" y1="314.70" x2="423.90" y2="321.00" stroke="#555555" stroke-width="0.6"/>
<rect x="411.72" y="288.20" width="24.37" height="26.50" fill="none" stroke="#555555" stroke-width="0.7"/>
<line x1="411.72" y1="305.50" x2="436.09" y2="305.50" stroke="#404040" stroke-width="0.9"/>
<circle cx="433.1" cy="275.0" r="1.15" fill="#3a3a3a" fill-opacity="0.72"/>
<circle cx="424.1" cy="304.1" r="1.15" fill="#3a3a3a" fill-opacity="0.72"/>
<circle cx="420.0" cy="287.2" r="1.15" fill="#3a3a3a" fill-opacity="0.72"/>
<circle cx="425.1" cy="274.4" r="1.15" fill="#3a3a3a" fill-opacity="0.72"/>
<circle cx="433.7" cy="309.8" r="1.15" fill="#3a3a3a" fill-opacity="0.72"/>
<circle cx="434.0" cy="296.6" r="1.15" fill="#3a3a3a" fill-opacity="0.72"/>
<circle cx="415.2" cy="290.2" r="1.15" fill="#3a3a3a" fill-opacity="0.72"/>
<circle cx="422.8" cy="319.5" r="1.15" fill="#3a3a3a" fill-opacity="0.72"/>
<circle cx="426.9" cy="259.6" r="1.15" fill="#3a3a3a" fill-opacity="0.72"/>
<circle cx="421.6" cy="301.9" r="1.15" fill="#3a3a3a" fill-opacity="0.72"/>
<circle cx="414.7" cy="294.2" r="1.15" fill="#3a3a3a" fill-opacity="0.72"/>
<circle cx="428.1" cy="294.7" r="1.15" fill="#3a3a3a" fill-opacity="0.72"/>
<circle cx="423.0" cy="319.3" r="1.15" fill="#3a3a3a" fill-opacity="0.72"/>
<circle cx="423.6" cy="298.4" r="1.15" fill="#3a3a3a" fill-opacity="0.72"/>
<circle cx="415.4" cy="287.1" r="1.15" fill="#3a3a3a" fill-opacity="0.72"/>
<circle cx="428.3" cy="301.2" r="1.15" fill="#3a3a3a" fill-opacity="0.72"/>
<circle cx="426.5" cy="319.6" r="1.15" fill="#3a3a3a" fill-opacity="0.72"/>
<circle cx="431.3" cy="318.9" r="1.15" fill="#3a3a3a" fill-opacity="0.72"/>
<circle cx="418.7" cy="278.9" r="1.15" fill="#3a3a3a" fill-opacity="0.72"/>
<circle cx="426.3" cy="317.1" r="1.15" fill="#3a3a3a" fill-opacity="0.72"/>
<circle cx="433.9" cy="320.8" r="1.15" fill="#3a3a3a" fill-opacity="0.72"/>
<circle cx="420.1" cy="296.5" r="1.15" fill="#3a3a3a" fill-opacity="0.72"/>
<circle cx="425.0" cy="292.1" r="1.15" fill="#3a3a3a" fill-opacity="0.72"/>
<circle cx="433.0" cy="296.2" r="1.15" fill="#3a3a3a" fill-opacity="0.72"/>
<circle cx="415.9" cy="272.5" r="1.15" fill="#3a3a3a" fill-opacity="0.72"/>
<circle cx="417.9" cy="319.1" r="1.15" fill="#3a3a3a" fill-opacity="0.72"/>
<circle cx="427.6" cy="305.2" r="1.15" fill="#3a3a3a" fill-opacity="0.72"/>
<circle cx="420.3" cy="313.4" r="1.15" fill="#3a3a3a" fill-opacity="0.72"/>
<circle cx="416.8" cy="310.6" r="1.15" fill="#3a3a3a" fill-opacity="0.72"/>
<circle cx="425.9" cy="264.8" r="1.15" fill="#3a3a3a" fill-opacity="0.72"/>
<line x1="423.90" y1="340.40" x2="423.90" y2="341.90" stroke="#333333" stroke-width="0.5"/>
<text x="423.90" y="349.40" font-size="8.4" text-anchor="middle" fill="#1a1a1a">TAZ</text>
<line x1="458.71" y1="240.50" x2="458.71" y2="274.00" stroke="#e07070" stroke-width="0.6"/>
<line x1="458.71" y1="297.20" x2="458.71" y2="314.00" stroke="#e07070" stroke-width="0.6"/>
<rect x="446.53" y="274.00" width="24.37" height="23.20" fill="none" stroke="#e07070" stroke-width="0.7"/>
<line x1="446.53" y1="283.80" x2="470.90" y2="283.80" stroke="#d04040" stroke-width="0.9"/>
<circle cx="467.7" cy="282.8" r="1.15" fill="#3a3a3a" fill-opacity="0.72"/>
<circle cx="461.1" cy="284.1" r="1.15" fill="#3a3a3a" fill-opacity="0.72"/>
<circle cx="456.4" cy="278.0" r="1.15" fill="#3a3a3a" fill-opacity="0.72"/>
<circle cx="468.1" cy="278.4" r="1.15" fill="#3a3a3a" fill-opacity="0.72"/>
<circle cx="467.6" cy="292.8" r="1.15" fill="#3a3a3a" fill-opacity="0.72"/>
<circle cx="458.7" cy="241.1" r="1.15" fill="#3a3a3a" fill-opacity="0.72"/>
<circle cx="462.8" cy="288.1" r="1.15" fill="#3a3a3a" fill-opacity="0.72"/>
<circle cx="459.6" cy="274.2" r="1.15" fill="#3a3a3a" fill-opacity="0.72"/>
<circle cx="457.8" cy="281.2" r="1.15" fill="#3a3a3a" fill-opacity="0.72"/>
<circle cx="451.2" cy="303.4" r="1.15" fill="#3a3a3a" fill-opacity="0.72"/>
<circle cx="459.3" cy="311.0" r="1.15" fill="#3a3a3a" fill-opacity="0.72"/>
<circle cx="456.7" cy="278.4" r="1.15" fill="#3a3a3a" fill-opacity="0.72"/>
<circle cx="464.9" cy="248.0" r="1.15" fill="#3a3a3a" fill-opacity="0.72"/>
<circle cx="466.6" cy="312.7" r="1.15" fill="#3a3a3a" fill-opacity="0.72"/>
<circle cx="450.1" cy="287.5" r="1.15" fill="#3a3a3a" fill-opacity="0.72"/>
<circle cx="464.0" cy="309.7" r="1.15" fill="#3a3a3a" fill-opacity="0.72"/>
<circle cx="465.2" cy="275.4" r="1.15" fill="#3a3a3a" fill-opacity="0.72"/>
<circle cx="458.1" cy="261.3" r="1.15" fill="#3a3a3a" fill-opacity="0.72"/>
<circle cx="454.0" cy="302.9" r="1.15" fill="#3a3a3a" fill-opacity="0.72"/>
<circle cx="461.3" cy="280.9" r="1.15" fill="#3a3a3a" fill-opacity="0.72"/>
<circle cx="449.9" cy="298.4" r="1.15" fill="#3a3a3a" fill-opacity="0.72"/>
<circle cx="452.4" cy="263.2" r="1.15" fill="#3a3a3a" fill-opacity="0.72"/>
<circle cx="449.2" cy="275.4" r="1.15" fill="#3a3a3a" fill-opacity="0.72"/>
<circle cx="461.8" cy="289.8" r="1.15" fill="#3a3a3a" fill-opacity="0.72"/>
<circle cx="467.5" cy="276.4" r="1.15" fill="#3a3a3a" fill-opacity="0.72"/>
<circle cx="462.6" cy="254.2" r="1.15" fill="#3a3a3a" fill-opacity="0.72"/>
<circle cx="450.1" cy="258.1" r="1.15" fill="#3a3a3a" fill-opacity="0.72"/>
<circle cx="449.3" cy="300.8" r="1.15" fill="#3a3a3a" fill-opacity="0.72"/>
<circle cx="461.3" cy="286.4" r="1.15" fill="#3a3a3a" fill-opacity="0.72"/>
<circle cx="458.6" cy="290.5" r="1.15" fill="#3a3a3a" fill-opacity="0.72"/>
<circle cx="454.7" cy="216.5" r="1.15" fill="#3a3a3a" fill-opacity="0.72"/>
<circle cx="462.7" cy="216.5" r="1.15" fill="#3a3a3a" fill-opacity="0.72"/>
<circle cx="456.7" cy="226.0" r="1.15" fill="#3a3a3a" fill-opacity="0.72"/>
<line x1="458.71" y1="340.40" x2="458.71" y2="341.90" stroke="#333333" stroke-width="0.5"/>
<text x="458.71" y="349.40" font-size="8.4" text-anchor="middle" fill="#1a1a1a">LEN+TAZ</text>
<rect x="333.40" y="209.40" width="146.20" height="131.00" fill="none" stroke="#595959" stroke-width="0.9"/>
<rect x="333.40" y="198.20" width="146.20" height="11.20" fill="#f0f0f0" stroke="#595959" stroke-width="0.9"/>
<text x="406.50" y="206.60" font-size="8.0" text-anchor="middle" fill="#1a1a1a">RL</text>
<text x="337.4" y="215.90" font-size="7.0" fill="#1a1a1a">Kruskal–Wallis, <tspan font-style="italic">P</tspan> = 2.1 × 10<tspan dy="-2.4" font-size="4.6">−6</tspan></text>
<line x1="331.40" y1="209.80" x2="333.40" y2="209.80" stroke="#333333" stroke-width="0.5"/>
<text x="331.00" y="212.70" font-size="8.4" text-anchor="end" fill="#1a1a1a">1,0000</text>
<line x1="331.40" y1="242.00" x2="333.40" y2="242.00" stroke="#333333" stroke-width="0.5"/>
<text x="331.00" y="244.90" font-size="8.4" text-anchor="end" fill="#1a1a1a">7,500</text>
<line x1="331.40" y1="274.20" x2="333.40" y2="274.20" stroke="#333333" stroke-width="0.5"/>
<text x="331.00" y="277.10" font-size="8.4" text-anchor="end" fill="#1a1a1a">5,000</text>
<line x1="331.40" y1="306.40" x2="333.40" y2="306.40" stroke="#333333" stroke-width="0.5"/>
<text x="331.00" y="309.30" font-size="8.4" text-anchor="end" fill="#1a1a1a">2,500</text>
<line x1="331.40" y1="338.60" x2="333.40" y2="338.60" stroke="#333333" stroke-width="0.5"/>
<text x="331.00" y="341.50" font-size="8.4" text-anchor="end" fill="#1a1a1a">0</text>
<rect x="333.40" y="380.40" width="146.20" height="131.60" fill="#fff" stroke="none" stroke-width="0"/>
<line x1="354.29" y1="466.00" x2="354.29" y2="478.50" stroke="#c4c4c4" stroke-width="0.6"/>
<line x1="354.29" y1="499.40" x2="354.29" y2="507.00" stroke="#c4c4c4" stroke-width="0.6"/>
<rect x="342.10" y="478.50" width="24.37" height="20.90" fill="none" stroke="#c4c4c4" stroke-width="0.7"/>
<line x1="342.10" y1="486.80" x2="366.47" y2="486.80" stroke="#a0a0a0" stroke-width="0.9"/>
<circle cx="360.6" cy="496.3" r="1.15" fill="#3a3a3a" fill-opacity="0.72"/>
<circle cx="348.5" cy="504.6" r="1.15" fill="#3a3a3a" fill-opacity="0.72"/>
<circle cx="355.0" cy="506.3" r="1.15" fill="#3a3a3a" fill-opacity="0.72"/>
<circle cx="352.0" cy="506.8" r="1.15" fill="#3a3a3a" fill-opacity="0.72"/>
<circle cx="360.3" cy="506.5" r="1.15" fill="#3a3a3a" fill-opacity="0.72"/>
<circle cx="356.6" cy="485.9" r="1.15" fill="#3a3a3a" fill-opacity="0.72"/>
<circle cx="357.3" cy="475.4" r="1.15" fill="#3a3a3a" fill-opacity="0.72"/>
<circle cx="355.0" cy="498.0" r="1.15" fill="#3a3a3a" fill-opacity="0.72"/>
<circle cx="364.5" cy="501.0" r="1.15" fill="#3a3a3a" fill-opacity="0.72"/>
<circle cx="359.2" cy="475.7" r="1.15" fill="#3a3a3a" fill-opacity="0.72"/>
<circle cx="345.7" cy="502.2" r="1.15" fill="#3a3a3a" fill-opacity="0.72"/>
<circle cx="355.1" cy="482.2" r="1.15" fill="#3a3a3a" fill-opacity="0.72"/>
<circle cx="346.7" cy="502.2" r="1.15" fill="#3a3a3a" fill-opacity="0.72"/>
<circle cx="355.9" cy="487.3" r="1.15" fill="#3a3a3a" fill-opacity="0.72"/>
<circle cx="348.4" cy="492.4" r="1.15" fill="#3a3a3a" fill-opacity="0.72"/>
<circle cx="354.8" cy="497.9" r="1.15" fill="#3a3a3a" fill-opacity="0.72"/>
<circle cx="346.6" cy="503.3" r="1.15" fill="#3a3a3a" fill-opacity="0.72"/>
<circle cx="357.2" cy="487.4" r="1.15" fill="#3a3a3a" fill-opacity="0.72"/>
<circle cx="357.4" cy="505.1" r="1.15" fill="#3a3a3a" fill-opacity="0.72"/>
<circle cx="351.8" cy="487.5" r="1.15" fill="#3a3a3a" fill-opacity="0.72"/>
<circle cx="355.1" cy="484.0" r="1.15" fill="#3a3a3a" fill-opacity="0.72"/>
<circle cx="360.9" cy="479.2" r="1.15" fill="#3a3a3a" fill-opacity="0.72"/>
<circle cx="359.1" cy="476.0" r="1.15" fill="#3a3a3a" fill-opacity="0.72"/>
<circle cx="351.8" cy="478.4" r="1.15" fill="#3a3a3a" fill-opacity="0.72"/>
<circle cx="357.6" cy="478.6" r="1.15" fill="#3a3a3a" fill-opacity="0.72"/>
<circle cx="364.5" cy="473.2" r="1.15" fill="#3a3a3a" fill-opacity="0.72"/>
<circle cx="359.1" cy="483.2" r="1.15" fill="#3a3a3a" fill-opacity="0.72"/>
<circle cx="345.2" cy="503.1" r="1.15" fill="#3a3a3a" fill-opacity="0.72"/>
<circle cx="354.3" cy="495.8" r="1.15" fill="#3a3a3a" fill-opacity="0.72"/>
<circle cx="356.9" cy="486.6" r="1.15" fill="#3a3a3a" fill-opacity="0.72"/>
<line x1="354.29" y1="512.00" x2="354.29" y2="513.50" stroke="#333333" stroke-width="0.5"/>
<text x="354.29" y="521.00" font-size="8.4" text-anchor="middle" fill="#1a1a1a">DMSO</text>
<line x1="389.10" y1="473.00" x2="389.10" y2="488.30" stroke="#707070" stroke-width="0.6"/>
<line x1="389.10" y1="497.50" x2="389.10" y2="503.00" stroke="#707070" stroke-width="0.6"/>
<rect x="376.91" y="488.30" width="24.37" height="9.20" fill="none" stroke="#707070" stroke-width="0.7"/>
<line x1="376.91" y1="492.30" x2="401.28" y2="492.30" stroke="#606060" stroke-width="0.9"/>
<circle cx="396.6" cy="483.6" r="1.15" fill="#3a3a3a" fill-opacity="0.72"/>
<circle cx="384.0" cy="499.6" r="1.15" fill="#3a3a3a" fill-opacity="0.72"/>
<circle cx="397.9" cy="501.9" r="1.15" fill="#3a3a3a" fill-opacity="0.72"/>
<circle cx="397.1" cy="496.1" r="1.15" fill="#3a3a3a" fill-opacity="0.72"/>
<circle cx="391.8" cy="491.1" r="1.15" fill="#3a3a3a" fill-opacity="0.72"/>
<circle cx="384.3" cy="495.9" r="1.15" fill="#3a3a3a" fill-opacity="0.72"/>
<circle cx="383.3" cy="477.5" r="1.15" fill="#3a3a3a" fill-opacity="0.72"/>
<circle cx="393.5" cy="492.9" r="1.15" fill="#3a3a3a" fill-opacity="0.72"/>
<circle cx="385.7" cy="494.6" r="1.15" fill="#3a3a3a" fill-opacity="0.72"/>
<circle cx="382.8" cy="478.6" r="1.15" fill="#3a3a3a" fill-opacity="0.72"/>
<circle cx="393.1" cy="488.8" r="1.15" fill="#3a3a3a" fill-opacity="0.72"/>
<circle cx="396.9" cy="489.4" r="1.15" fill="#3a3a3a" fill-opacity="0.72"/>
<circle cx="393.7" cy="473.3" r="1.15" fill="#3a3a3a" fill-opacity="0.72"/>
<circle cx="389.1" cy="479.8" r="1.15" fill="#3a3a3a" fill-opacity="0.72"/>
<circle cx="391.9" cy="499.6" r="1.15" fill="#3a3a3a" fill-opacity="0.72"/>
<circle cx="386.0" cy="478.6" r="1.15" fill="#3a3a3a" fill-opacity="0.72"/>
<circle cx="388.2" cy="501.0" r="1.15" fill="#3a3a3a" fill-opacity="0.72"/>
<circle cx="395.0" cy="476.4" r="1.15" fill="#3a3a3a" fill-opacity="0.72"/>
<circle cx="388.2" cy="494.2" r="1.15" fill="#3a3a3a" fill-opacity="0.72"/>
<circle cx="390.8" cy="493.7" r="1.15" fill="#3a3a3a" fill-opacity="0.72"/>
<circle cx="382.2" cy="492.8" r="1.15" fill="#3a3a3a" fill-opacity="0.72"/>
<circle cx="385.6" cy="499.3" r="1.15" fill="#3a3a3a" fill-opacity="0.72"/>
<circle cx="382.7" cy="488.7" r="1.15" fill="#3a3a3a" fill-opacity="0.72"/>
<circle cx="396.2" cy="494.0" r="1.15" fill="#3a3a3a" fill-opacity="0.72"/>
<circle cx="389.8" cy="489.3" r="1.15" fill="#3a3a3a" fill-opacity="0.72"/>
<circle cx="394.4" cy="492.0" r="1.15" fill="#3a3a3a" fill-opacity="0.72"/>
<circle cx="389.9" cy="494.7" r="1.15" fill="#3a3a3a" fill-opacity="0.72"/>
<circle cx="391.1" cy="490.5" r="1.15" fill="#3a3a3a" fill-opacity="0.72"/>
<circle cx="390.7" cy="490.2" r="1.15" fill="#3a3a3a" fill-opacity="0.72"/>
<circle cx="392.4" cy="500.4" r="1.15" fill="#3a3a3a" fill-opacity="0.72"/>
<line x1="389.10" y1="512.00" x2="389.10" y2="513.50" stroke="#333333" stroke-width="0.5"/>
<text x="389.10" y="521.00" font-size="8.4" text-anchor="middle" fill="#1a1a1a">LEN</text>
<line x1="423.90" y1="441.00" x2="423.90" y2="470.80" stroke="#555555" stroke-width="0.6"/>
<line x1="423.90" y1="490.20" x2="423.90" y2="503.00" stroke="#555555" stroke-width="0.6"/>
<rect x="411.72" y="470.80" width="24.37" height="19.40" fill="none" stroke="#555555" stroke-width="0.7"/>
<line x1="411.72" y1="476.00" x2="436.09" y2="476.00" stroke="#404040" stroke-width="0.9"/>
<circle cx="420.2" cy="476.7" r="1.15" fill="#3a3a3a" fill-opacity="0.72"/>
<circle cx="429.7" cy="494.8" r="1.15" fill="#3a3a3a" fill-opacity="0.72"/>
<circle cx="431.9" cy="480.5" r="1.15" fill="#3a3a3a" fill-opacity="0.72"/>
<circle cx="417.4" cy="497.6" r="1.15" fill="#3a3a3a" fill-opacity="0.72"/>
<circle cx="433.4" cy="491.2" r="1.15" fill="#3a3a3a" fill-opacity="0.72"/>
<circle cx="424.5" cy="499.4" r="1.15" fill="#3a3a3a" fill-opacity="0.72"/>
<circle cx="427.3" cy="477.4" r="1.15" fill="#3a3a3a" fill-opacity="0.72"/>
<circle cx="430.1" cy="452.6" r="1.15" fill="#3a3a3a" fill-opacity="0.72"/>
<circle cx="415.5" cy="476.4" r="1.15" fill="#3a3a3a" fill-opacity="0.72"/>
<circle cx="429.1" cy="486.2" r="1.15" fill="#3a3a3a" fill-opacity="0.72"/>
<circle cx="416.0" cy="476.8" r="1.15" fill="#3a3a3a" fill-opacity="0.72"/>
<circle cx="418.4" cy="454.2" r="1.15" fill="#3a3a3a" fill-opacity="0.72"/>
<circle cx="422.4" cy="487.6" r="1.15" fill="#3a3a3a" fill-opacity="0.72"/>
<circle cx="423.4" cy="459.7" r="1.15" fill="#3a3a3a" fill-opacity="0.72"/>
<circle cx="417.7" cy="451.8" r="1.15" fill="#3a3a3a" fill-opacity="0.72"/>
<circle cx="420.4" cy="476.7" r="1.15" fill="#3a3a3a" fill-opacity="0.72"/>
<circle cx="422.4" cy="488.5" r="1.15" fill="#3a3a3a" fill-opacity="0.72"/>
<circle cx="418.1" cy="471.4" r="1.15" fill="#3a3a3a" fill-opacity="0.72"/>
<circle cx="427.3" cy="494.5" r="1.15" fill="#3a3a3a" fill-opacity="0.72"/>
<circle cx="422.9" cy="483.4" r="1.15" fill="#3a3a3a" fill-opacity="0.72"/>
<circle cx="421.4" cy="456.7" r="1.15" fill="#3a3a3a" fill-opacity="0.72"/>
<circle cx="430.7" cy="482.3" r="1.15" fill="#3a3a3a" fill-opacity="0.72"/>
<circle cx="420.4" cy="455.3" r="1.15" fill="#3a3a3a" fill-opacity="0.72"/>
<circle cx="416.7" cy="501.0" r="1.15" fill="#3a3a3a" fill-opacity="0.72"/>
<circle cx="427.5" cy="464.0" r="1.15" fill="#3a3a3a" fill-opacity="0.72"/>
<circle cx="418.7" cy="501.5" r="1.15" fill="#3a3a3a" fill-opacity="0.72"/>
<circle cx="421.4" cy="494.4" r="1.15" fill="#3a3a3a" fill-opacity="0.72"/>
<circle cx="421.8" cy="492.3" r="1.15" fill="#3a3a3a" fill-opacity="0.72"/>
<circle cx="419.1" cy="449.1" r="1.15" fill="#3a3a3a" fill-opacity="0.72"/>
<circle cx="428.9" cy="498.0" r="1.15" fill="#3a3a3a" fill-opacity="0.72"/>
<line x1="423.90" y1="512.00" x2="423.90" y2="513.50" stroke="#333333" stroke-width="0.5"/>
<text x="423.90" y="521.00" font-size="8.4" text-anchor="middle" fill="#1a1a1a">TAZ</text>
<line x1="458.71" y1="400.00" x2="458.71" y2="444.60" stroke="#e07070" stroke-width="0.6"/>
<line x1="458.71" y1="496.90" x2="458.71" y2="501.00" stroke="#e07070" stroke-width="0.6"/>
<rect x="446.53" y="444.60" width="24.37" height="52.30" fill="none" stroke="#e07070" stroke-width="0.7"/>
<line x1="446.53" y1="471.70" x2="470.90" y2="471.70" stroke="#d04040" stroke-width="0.9"/>
<circle cx="466.8" cy="500.5" r="1.15" fill="#3a3a3a" fill-opacity="0.72"/>
<circle cx="458.7" cy="500.9" r="1.15" fill="#3a3a3a" fill-opacity="0.72"/>
<circle cx="468.3" cy="422.9" r="1.15" fill="#3a3a3a" fill-opacity="0.72"/>
<circle cx="462.1" cy="419.2" r="1.15" fill="#3a3a3a" fill-opacity="0.72"/>
<circle cx="456.4" cy="451.4" r="1.15" fill="#3a3a3a" fill-opacity="0.72"/>
<circle cx="450.4" cy="444.8" r="1.15" fill="#3a3a3a" fill-opacity="0.72"/>
<circle cx="449.5" cy="484.5" r="1.15" fill="#3a3a3a" fill-opacity="0.72"/>
<circle cx="458.9" cy="405.0" r="1.15" fill="#3a3a3a" fill-opacity="0.72"/>
<circle cx="463.1" cy="467.9" r="1.15" fill="#3a3a3a" fill-opacity="0.72"/>
<circle cx="463.4" cy="465.1" r="1.15" fill="#3a3a3a" fill-opacity="0.72"/>
<circle cx="462.8" cy="462.8" r="1.15" fill="#3a3a3a" fill-opacity="0.72"/>
<circle cx="453.7" cy="500.9" r="1.15" fill="#3a3a3a" fill-opacity="0.72"/>
<circle cx="462.8" cy="413.9" r="1.15" fill="#3a3a3a" fill-opacity="0.72"/>
<circle cx="455.5" cy="497.5" r="1.15" fill="#3a3a3a" fill-opacity="0.72"/>
<circle cx="461.4" cy="498.3" r="1.15" fill="#3a3a3a" fill-opacity="0.72"/>
<circle cx="464.5" cy="498.0" r="1.15" fill="#3a3a3a" fill-opacity="0.72"/>
<circle cx="451.9" cy="462.4" r="1.15" fill="#3a3a3a" fill-opacity="0.72"/>
<circle cx="449.0" cy="455.7" r="1.15" fill="#3a3a3a" fill-opacity="0.72"/>
<circle cx="460.2" cy="497.6" r="1.15" fill="#3a3a3a" fill-opacity="0.72"/>
<circle cx="465.8" cy="437.9" r="1.15" fill="#3a3a3a" fill-opacity="0.72"/>
<circle cx="464.1" cy="407.5" r="1.15" fill="#3a3a3a" fill-opacity="0.72"/>
<circle cx="454.8" cy="493.2" r="1.15" fill="#3a3a3a" fill-opacity="0.72"/>
<circle cx="456.6" cy="455.9" r="1.15" fill="#3a3a3a" fill-opacity="0.72"/>
<circle cx="463.8" cy="500.4" r="1.15" fill="#3a3a3a" fill-opacity="0.72"/>
<circle cx="455.1" cy="410.9" r="1.15" fill="#3a3a3a" fill-opacity="0.72"/>
<circle cx="466.4" cy="467.3" r="1.15" fill="#3a3a3a" fill-opacity="0.72"/>
<circle cx="468.2" cy="497.2" r="1.15" fill="#3a3a3a" fill-opacity="0.72"/>
<circle cx="462.7" cy="498.8" r="1.15" fill="#3a3a3a" fill-opacity="0.72"/>
<circle cx="461.1" cy="497.7" r="1.15" fill="#3a3a3a" fill-opacity="0.72"/>
<circle cx="467.1" cy="500.5" r="1.15" fill="#3a3a3a" fill-opacity="0.72"/>
<line x1="458.71" y1="512.00" x2="458.71" y2="513.50" stroke="#333333" stroke-width="0.5"/>
<text x="458.71" y="521.00" font-size="8.4" text-anchor="middle" fill="#1a1a1a">LEN+TAZ</text>
<rect x="333.40" y="380.40" width="146.20" height="131.60" fill="none" stroke="#595959" stroke-width="0.9"/>
<rect x="333.40" y="369.20" width="146.20" height="11.20" fill="#f0f0f0" stroke="#595959" stroke-width="0.9"/>
<text x="406.50" y="377.60" font-size="8.0" text-anchor="middle" fill="#1a1a1a">HT</text>
<text x="337.4" y="386.90" font-size="7.0" fill="#1a1a1a">Kruskal–Wallis, <tspan font-style="italic">P</tspan> = 0.001</text>
<line x1="331.40" y1="382.00" x2="333.40" y2="382.00" stroke="#333333" stroke-width="0.5"/>
<text x="331.00" y="384.90" font-size="8.4" text-anchor="end" fill="#1a1a1a">10,000</text>
<line x1="331.40" y1="414.00" x2="333.40" y2="414.00" stroke="#333333" stroke-width="0.5"/>
<text x="331.00" y="416.90" font-size="8.4" text-anchor="end" fill="#1a1a1a">7,500</text>
<line x1="331.40" y1="446.00" x2="333.40" y2="446.00" stroke="#333333" stroke-width="0.5"/>
<text x="331.00" y="448.90" font-size="8.4" text-anchor="end" fill="#1a1a1a">5,000</text>
<line x1="331.40" y1="478.00" x2="333.40" y2="478.00" stroke="#333333" stroke-width="0.5"/>
<text x="331.00" y="480.90" font-size="8.4" text-anchor="end" fill="#1a1a1a">2,500</text>
<line x1="331.40" y1="510.00" x2="333.40" y2="510.00" stroke="#333333" stroke-width="0.5"/>
<text x="331.00" y="512.90" font-size="8.4" text-anchor="end" fill="#1a1a1a">0</text>
<text x="3.60" y="543.00" font-size="16.5" text-anchor="start" fill="#000" font-weight="bold">E</text>
<text x="36.60" y="588.20" font-size="9.3" text-anchor="middle" fill="#1a1a1a" transform="rotate(-90 36.6 588.2)">RL cell line</text>
<rect x="49.90" y="539.40" width="77.10" height="79.40" fill="#50a8d0" stroke="none" stroke-width="0"/>
<rect x="49.90" y="620.20" width="77.10" height="17.30" fill="#50a8d0" stroke="none" stroke-width="0"/>
<rect x="49.90" y="639.00" width="77.10" height="15.70" fill="#50a8d0" stroke="none" stroke-width="0"/>
<svg x="49.9" y="539.4" width="77.10" height="79.4" viewBox="49.9 539.4 77.10 79.4">
<g filter="url(#blot2)" opacity="0.25">
<rect x="56" y="545" width="1.2" height="50" fill="#1a5a80"/>
<rect x="60" y="545" width="1.2" height="50" fill="#1a5a80"/>
<rect x="66" y="545" width="1.2" height="50" fill="#1a5a80"/>
<rect x="73" y="545" width="1.2" height="50" fill="#1a5a80"/>
<rect x="78" y="545" width="1.2" height="50" fill="#1a5a80"/>
<rect x="84" y="545" width="1.2" height="50" fill="#1a5a80"/>
<rect x="90" y="545" width="1.2" height="50" fill="#1a5a80"/>
<rect x="95" y="545" width="1.2" height="50" fill="#1a5a80"/>
<rect x="101" y="545" width="1.2" height="50" fill="#1a5a80"/>
<rect x="108" y="545" width="1.2" height="50" fill="#1a5a80"/>
<rect x="112" y="545" width="1.2" height="50" fill="#1a5a80"/>
<rect x="118" y="545" width="1.2" height="50" fill="#1a5a80"/>
<rect x="123" y="545" width="1.2" height="50" fill="#1a5a80"/>
</g><g filter="url(#blot)">
<ellipse cx="62.5" cy="572" rx="5.1" ry="20" fill="#1a4a68" opacity="0.41"/>
<rect x="56.50" y="586" width="12.00" height="24.00" rx="6.00" ry="6.00" fill="#12344a" opacity="0.9"/>
<ellipse cx="81.0" cy="572" rx="5.1" ry="20" fill="#1a4a68" opacity="0.25"/>
<rect x="75.00" y="590" width="12.00" height="20.00" rx="6.00" ry="6.00" fill="#1c5a7a" opacity="0.55"/>
<ellipse cx="97.5" cy="572" rx="5.609999999999999" ry="20" fill="#1a4a68" opacity="0.43"/>
<rect x="90.90" y="587" width="13.20" height="25.00" rx="6.60" ry="6.60" fill="#0e2c40" opacity="0.95"/>
<ellipse cx="114.5" cy="572" rx="6.12" ry="20" fill="#1a4a68" opacity="0.43"/>
<rect x="107.30" y="578" width="14.40" height="32.00" rx="7.20" ry="7.20" fill="#0a1a28" opacity="0.95"/>
<ellipse cx="114.5" cy="595" rx="4.2" ry="8" fill="#000000" opacity="0.6"/>
</g></svg>
<g filter="url(#blot2)">
<rect x="56.9" y="628.60" width="11.40" height="3.2" rx="1.6" fill="#02060c" opacity="0.9"/>
<rect x="75.8" y="629.00" width="9.10" height="2.4" rx="1.2" fill="#02060c" opacity="0.6"/>
<rect x="92.4" y="627.70" width="10.60" height="5.0" rx="2.5" fill="#02060c" opacity="1.0"/>
<rect x="109.7" y="628.20" width="11.40" height="4.0" rx="2.0" fill="#02060c" opacity="1.0"/>
<rect x="56.9" y="646.00" width="10.60" height="3.0" rx="1.5" fill="#02060c" opacity="0.9"/>
<rect x="77.0" y="645.70" width="8.60" height="3.6" rx="1.8" fill="#02060c" opacity="1.0"/>
<rect x="92.4" y="644.50" width="12.20" height="6.0" rx="3.0" fill="#02060c" opacity="1.0"/>
<rect x="112.0" y="646.20" width="12.30" height="2.6" rx="1.3" fill="#02060c" opacity="0.5"/>
</g>
<path d="M127.6,555.2 H129.4 V609.8 H127.6" fill="none" stroke="#111" stroke-width="0.9"/>
<text x="137.00" y="553.10" font-size="8.0" text-anchor="start" fill="#1a1a1a">SDD-AGE</text>
<text x="137.00" y="583.30" font-size="8.0" text-anchor="start" fill="#1a1a1a">MAVS</text>
<text x="137.00" y="591.10" font-size="8.0" text-anchor="start" fill="#1a1a1a">aggregates</text>
<text x="131.30" y="632.60" font-size="8.0" text-anchor="start" fill="#1a1a1a">MAVS</text>
<text x="131.30" y="650.70" font-size="8.0" text-anchor="start" fill="#1a1a1a">VDAC</text>
<line x1="156.20" y1="624.20" x2="156.20" y2="653.20" stroke="#111" stroke-width="0.9"/>
<text x="158.40" y="642.10" font-size="8.0" text-anchor="start" fill="#1a1a1a">SDS-PAGE</text>
<text x="65.80" y="660.20" font-size="8.0" text-anchor="end" fill="#1a1a1a" transform="rotate(-90 65.8 660.2)">DMSO</text>
<text x="84.70" y="660.20" font-size="8.0" text-anchor="end" fill="#1a1a1a" transform="rotate(-90 84.7 660.2)">LEN</text>
<text x="102.40" y="660.20" font-size="8.0" text-anchor="end" fill="#1a1a1a" transform="rotate(-90 102.39999999999999 660.2)">TAZ</text>
<text x="121.60" y="660.20" font-size="8.0" text-anchor="end" fill="#1a1a1a" transform="rotate(-90 121.6 660.2)">LEN+TAZ</text>
<text x="229.60" y="543.40" font-size="16.5" text-anchor="start" fill="#000" font-weight="bold">F</text>
<line x1="284.07" y1="536.00" x2="284.07" y2="673.00" stroke="#f4f4f4" stroke-width="0.5"/>
<line x1="308.82" y1="536.00" x2="308.82" y2="673.00" stroke="#f4f4f4" stroke-width="0.5"/>
<line x1="333.57" y1="536.00" x2="333.57" y2="673.00" stroke="#f4f4f4" stroke-width="0.5"/>
<line x1="358.32" y1="536.00" x2="358.32" y2="673.00" stroke="#f4f4f4" stroke-width="0.5"/>
<line x1="383.07" y1="536.00" x2="383.07" y2="673.00" stroke="#f4f4f4" stroke-width="0.5"/>
<line x1="271.00" y1="659.25" x2="401.20" y2="659.25" stroke="#f4f4f4" stroke-width="0.5"/>
<line x1="271.00" y1="632.95" x2="401.20" y2="632.95" stroke="#f4f4f4" stroke-width="0.5"/>
<line x1="271.00" y1="606.65" x2="401.20" y2="606.65" stroke="#f4f4f4" stroke-width="0.5"/>
<line x1="271.00" y1="580.35" x2="401.20" y2="580.35" stroke="#f4f4f4" stroke-width="0.5"/>
<line x1="271.00" y1="554.05" x2="401.20" y2="554.05" stroke="#f4f4f4" stroke-width="0.5"/>
<line x1="271.70" y1="536.00" x2="271.70" y2="673.00" stroke="#ebebeb" stroke-width="0.6"/>
<line x1="296.45" y1="536.00" x2="296.45" y2="673.00" stroke="#ebebeb" stroke-width="0.6"/>
<line x1="321.20" y1="536.00" x2="321.20" y2="673.00" stroke="#ebebeb" stroke-width="0.6"/>
<line x1="345.95" y1="536.00" x2="345.95" y2="673.00" stroke="#ebebeb" stroke-width="0.6"/>
<line x1="370.70" y1="536.00" x2="370.70" y2="673.00" stroke="#ebebeb" stroke-width="0.6"/>
<line x1="395.45" y1="536.00" x2="395.45" y2="673.00" stroke="#ebebeb" stroke-width="0.6"/>
<line x1="271.00" y1="672.40" x2="401.20" y2="672.40" stroke="#ebebeb" stroke-width="0.6"/>
<line x1="271.00" y1="646.10" x2="401.20" y2="646.10" stroke="#ebebeb" stroke-width="0.6"/>
<line x1="271.00" y1="619.80" x2="401.20" y2="619.80" stroke="#ebebeb" stroke-width="0.6"/>
<line x1="271.00" y1="593.50" x2="401.20" y2="593.50" stroke="#ebebeb" stroke-width="0.6"/>
<line x1="271.00" y1="567.20" x2="401.20" y2="567.20" stroke="#ebebeb" stroke-width="0.6"/>
<line x1="271.00" y1="540.90" x2="401.20" y2="540.90" stroke="#ebebeb" stroke-width="0.6"/>
<path d="M271.70,663.77 L272.69,664.23 L273.68,664.65 L274.67,665.03 L275.66,665.37 L276.65,665.68 L277.64,665.96 L278.63,666.21 L279.62,666.44 L280.61,666.65 L281.60,666.83 L282.59,667.00 L283.58,667.16 L284.57,667.29 L285.56,667.42 L286.55,667.53 L287.54,667.64 L288.53,667.73 L289.52,667.81 L290.51,667.89 L291.50,667.96 L292.49,668.02 L293.48,668.08 L294.47,668.13 L295.46,668.17 L296.45,668.22 L297.44,668.25 L298.43,668.29 L299.42,668.32 L300.41,668.35 L301.40,668.37 L302.39,668.39 L303.38,668.42 L304.37,668.43 L305.36,668.45 L306.35,668.47 L307.34,668.48 L308.33,668.49 L309.32,668.50 L310.31,668.51 L311.30,668.52 L312.29,668.53 L313.28,668.54 L314.27,668.55 L315.26,668.55 L316.25,668.56 L317.24,668.56 L318.23,668.57 L319.22,668.57 L320.21,668.58 L321.20,668.58 L322.19,668.58 L323.18,668.59 L324.17,668.59 L325.16,668.59 L326.15,668.59 L327.14,668.59 L328.13,668.60 L329.12,668.60 L330.11,668.60 L331.10,668.60 L332.09,668.60 L333.08,668.60 L334.07,668.60 L335.06,668.60 L336.05,668.61 L337.04,668.61 L338.03,668.61 L339.02,668.61 L340.01,668.61 L341.00,668.61 L341.99,668.61 L342.98,668.61 L343.97,668.61 L344.96,668.61 L345.95,668.61 L346.94,668.61 L347.93,668.61 L348.92,668.61 L349.91,668.61 L350.90,668.61 L351.89,668.61 L352.88,668.61 L353.87,668.61 L354.86,668.61 L355.85,668.61 L356.84,668.61 L357.83,668.61 L358.82,668.61 L359.81,668.61 L360.80,668.61 L361.79,668.61 L362.78,668.61 L363.77,668.61 L364.76,668.61 L365.75,668.61 L366.74,668.61 L367.73,668.61 L368.72,668.61 L369.71,668.61 L370.70,668.61 L371.69,668.61 L372.68,668.61 L373.67,668.61 L374.66,668.61 L375.65,668.61 L376.64,668.61 L377.63,668.61 L378.62,668.61 L379.61,668.61 L380.60,668.61 L381.59,668.61 L382.58,668.61 L383.57,668.61 L384.56,668.61 L385.55,668.61 L386.54,668.61 L387.53,668.61 L388.52,668.61 L389.51,668.61 L390.50,668.61 L391.49,668.61 L392.48,668.61 L393.47,668.61 L394.46,668.61 L395.45,668.61" fill="none" stroke="#2a2aa0" stroke-width="0.9" stroke-linejoin="round" stroke-dasharray="1.6,1.6"/>
<path d="M271.70,545.11 L272.69,547.21 L273.68,572.46 L274.67,596.66 L275.66,617.70 L276.65,619.80 L277.14,635.58 L277.64,649.26 L278.38,642.94 L278.88,640.84 L279.37,646.10 L279.87,649.26 L280.61,651.36 L281.60,653.46 L282.59,657.67 L283.58,660.83 L284.57,662.93 L285.56,665.04 L286.55,666.09 L287.54,665.97 L288.53,665.34 L289.52,665.06 L290.51,664.29 L291.50,665.35 L292.49,664.39 L293.48,669.09 L294.47,666.79 L295.46,664.28 L296.45,659.78 L297.44,659.78 L298.43,668.65 L299.42,666.78 L300.41,667.95 L301.40,666.38 L302.39,666.23 L303.38,660.30 L304.37,668.10 L305.36,667.77 L306.35,664.42 L307.34,665.22 L308.33,668.40 L309.32,666.10 L310.31,669.57 L311.30,667.05 L312.29,669.63 L313.28,670.29 L314.27,665.71 L315.26,669.19 L316.25,669.16 L317.24,665.13 L318.23,665.71 L319.22,668.77 L320.21,665.24 L321.20,667.46 L322.19,666.73 L323.18,669.22 L324.17,665.35 L325.16,666.66 L326.15,665.21 L327.14,665.59 L328.13,668.72 L329.12,668.40 L330.11,669.42 L331.10,669.53 L332.09,669.95 L333.08,668.71 L334.07,667.12 L335.06,670.28 L336.05,666.73 L337.04,668.52 L338.03,668.67 L339.02,665.99 L340.01,667.77 L341.00,668.63 L341.99,667.76 L342.98,666.59 L343.97,670.00 L344.96,665.17 L345.95,671.23 L346.94,667.40 L347.93,666.90 L348.92,671.25 L349.91,667.20 L350.90,669.42 L351.89,668.30 L352.88,671.30 L353.87,671.10 L354.86,670.40 L355.85,666.32 L356.84,670.31 L357.83,667.37 L358.82,666.46 L359.81,666.39 L360.80,669.54 L361.79,669.48 L362.78,668.59 L363.77,667.27 L364.76,670.78 L365.75,667.41 L366.74,667.15 L367.73,666.83 L368.72,665.04 L369.71,666.37 L370.70,670.87 L371.69,669.56 L372.68,668.14 L373.67,666.52 L374.66,669.56 L375.65,666.49 L376.64,668.48 L377.63,669.70 L378.62,669.68 L379.61,670.41 L380.60,670.94 L381.59,670.56 L382.58,667.72 L383.57,666.11 L384.56,670.50 L385.55,671.09 L386.54,666.16 L387.53,668.54 L388.52,669.21 L389.51,670.10 L390.50,668.22 L391.49,667.00 L392.48,668.95 L393.47,669.13 L394.46,671.05 L395.45,666.53" fill="none" stroke="#cc2a36" stroke-width="1.1" stroke-linejoin="round"/>
<line x1="271.00" y1="536.00" x2="271.00" y2="673.00" stroke="#1a1a1a" stroke-width="0.8"/>
<line x1="271.00" y1="673.00" x2="401.20" y2="673.00" stroke="#1a1a1a" stroke-width="0.8"/>
<line x1="269.50" y1="672.40" x2="271.00" y2="672.40" stroke="#333" stroke-width="0.5"/>
<text x="266.80" y="674.50" font-size="6.1" text-anchor="end" fill="#222">0</text>
<line x1="269.50" y1="646.10" x2="271.00" y2="646.10" stroke="#333" stroke-width="0.5"/>
<text x="266.80" y="648.20" font-size="6.1" text-anchor="end" fill="#222">25</text>
<line x1="269.50" y1="619.80" x2="271.00" y2="619.80" stroke="#333" stroke-width="0.5"/>
<text x="266.80" y="621.90" font-size="6.1" text-anchor="end" fill="#222">50</text>
<line x1="269.50" y1="593.50" x2="271.00" y2="593.50" stroke="#333" stroke-width="0.5"/>
<text x="266.80" y="595.60" font-size="6.1" text-anchor="end" fill="#222">75</text>
<line x1="269.50" y1="567.20" x2="271.00" y2="567.20" stroke="#333" stroke-width="0.5"/>
<text x="266.80" y="569.30" font-size="6.1" text-anchor="end" fill="#222">100</text>
<line x1="269.50" y1="540.90" x2="271.00" y2="540.90" stroke="#333" stroke-width="0.5"/>
<text x="266.80" y="543.00" font-size="6.1" text-anchor="end" fill="#222">125</text>
<line x1="271.70" y1="673.00" x2="271.70" y2="674.50" stroke="#333" stroke-width="0.5"/>
<text x="271.70" y="684.00" font-size="6.1" text-anchor="middle" fill="#222">0</text>
<line x1="296.45" y1="673.00" x2="296.45" y2="674.50" stroke="#333" stroke-width="0.5"/>
<text x="296.45" y="684.00" font-size="6.1" text-anchor="middle" fill="#222">100</text>
<line x1="321.20" y1="673.00" x2="321.20" y2="674.50" stroke="#333" stroke-width="0.5"/>
<text x="321.20" y="684.00" font-size="6.1" text-anchor="middle" fill="#222">200</text>
<line x1="345.95" y1="673.00" x2="345.95" y2="674.50" stroke="#333" stroke-width="0.5"/>
<text x="345.95" y="684.00" font-size="6.1" text-anchor="middle" fill="#222">300</text>
<line x1="370.70" y1="673.00" x2="370.70" y2="674.50" stroke="#333" stroke-width="0.5"/>
<text x="370.70" y="684.00" font-size="6.1" text-anchor="middle" fill="#222">400</text>
<line x1="395.45" y1="673.00" x2="395.45" y2="674.50" stroke="#333" stroke-width="0.5"/>
<text x="395.45" y="684.00" font-size="6.1" text-anchor="middle" fill="#222">500</text>
<text x="253.40" y="606.00" font-size="7.5" text-anchor="middle" fill="#1a1a1a" transform="rotate(-90 253.4 606.0)">Number</text>
<text x="338.40" y="694.60" font-size="7.25" text-anchor="middle" fill="#1a1a1a">Distance to nearest TSS (kb)</text>
<text x="406.80" y="598.00" font-size="8.0" text-anchor="start" fill="#1a1a1a">Type</text>
<line x1="408.00" y1="607.60" x2="415.00" y2="607.60" stroke="#cc2a36" stroke-width="0.9"/>
<text x="419.40" y="609.20" font-size="6.75" text-anchor="start" fill="#1a1a1a">upregulated ERVs</text>
<text x="419.4" y="615.4" font-size="6.75" fill="#1a1a1a">(<tspan font-style="italic">n</tspan> = 970)</text>
<line x1="408.00" y1="624.50" x2="415.00" y2="624.50" stroke="#2a2aa0" stroke-width="0.9" stroke-dasharray="1.4,1.4"/>
<text x="419.40" y="626.40" font-size="6.75" text-anchor="start" fill="#1a1a1a">randomly sampled ERVs</text>
</svg></body></html>
